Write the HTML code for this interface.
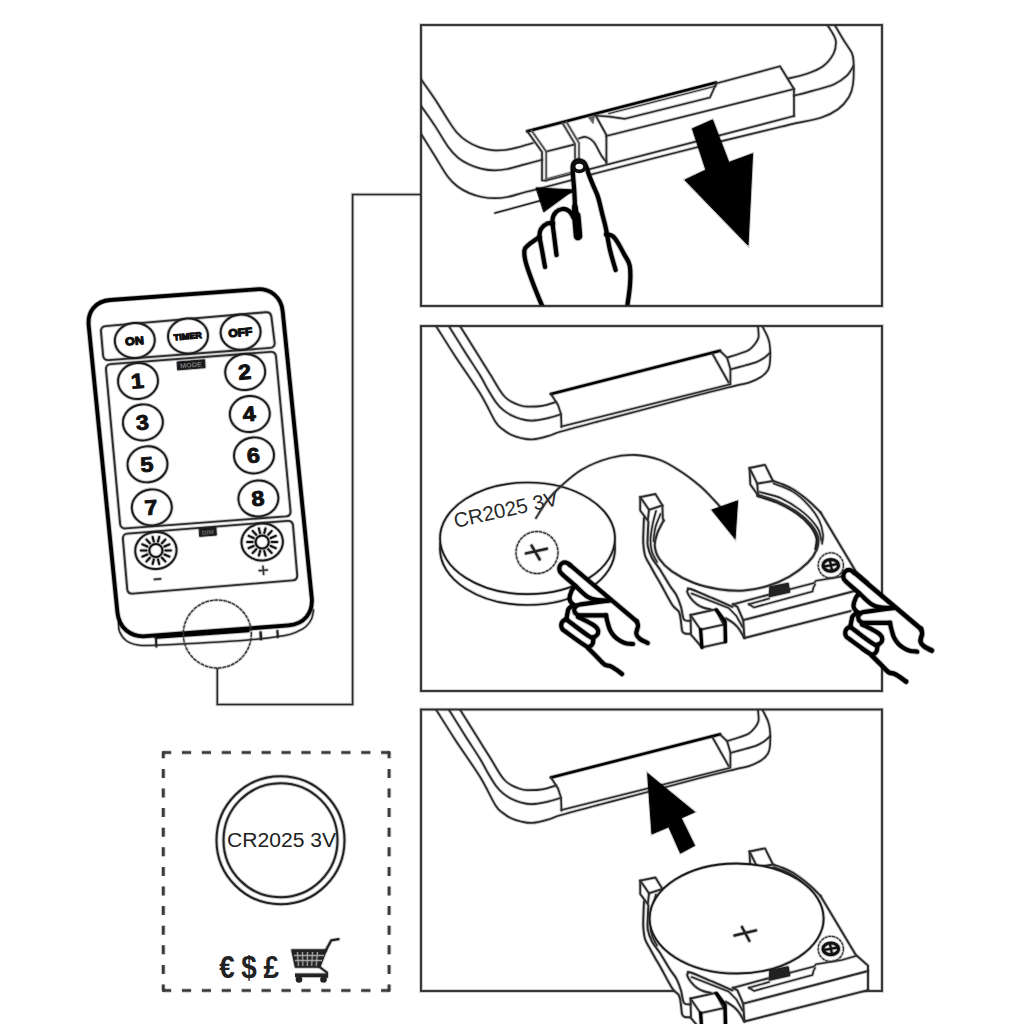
<!DOCTYPE html>
<html><head><meta charset="utf-8"><title>CR2025 battery replacement</title>
<style>
html,body{margin:0;padding:0;background:#fff;}
body{width:1024px;height:1024px;overflow:hidden;font-family:"Liberation Sans",sans-serif;}
svg{display:block;}
svg path, svg ellipse, svg circle, svg rect, svg line{stroke-linecap:round;stroke-linejoin:round;}
svg .b{stroke-linecap:butt;stroke-linejoin:miter;}
</style></head><body>
<svg width="1024" height="1024" viewBox="0 0 1024 1024">
<rect x="0" y="0" width="1024" height="1024" fill="#fff" stroke="none"/>
<path d="M217.3 668 V704.5 H352.6 V194.5 H421" fill="none" stroke="#2a2a2a" stroke-width="3.5" stroke-opacity="0.25" class="b"/>
<path d="M217.3 668 V704.5 H352.6 V194.5 H421" fill="none" stroke="#2a2a2a" stroke-width="1.6" class="b"/>
<g id="panel1">
<clipPath id="cp1"><rect x="421" y="25" width="461" height="281"/></clipPath>
<g clip-path="url(#cp1)">
<path d="M420.5 78.5 C422.9 82 430.5 92.4 435 99.2 C439.5 106 444.1 114 447.7 119.5 C451.3 125 453.4 128.6 456.6 132.2 C459.8 135.8 463 138.6 466.8 141.1 C470.6 143.6 475.3 145.9 479.5 147.4 C483.7 148.9 488 149.8 492.2 150.2 C496.4 150.6 500.7 150.5 504.9 150 C509.1 149.5 513 148.6 517.6 147.4 C522.2 146.2 530.3 143.7 532.8 143" fill="none" stroke="#2e2e2e" stroke-width="3.6" stroke-opacity="0.25" />
<path d="M420.5 78.5 C422.9 82 430.5 92.4 435 99.2 C439.5 106 444.1 114 447.7 119.5 C451.3 125 453.4 128.6 456.6 132.2 C459.8 135.8 463 138.6 466.8 141.1 C470.6 143.6 475.3 145.9 479.5 147.4 C483.7 148.9 488 149.8 492.2 150.2 C496.4 150.6 500.7 150.5 504.9 150 C509.1 149.5 513 148.6 517.6 147.4 C522.2 146.2 530.3 143.7 532.8 143" fill="none" stroke="#2e2e2e" stroke-width="1.7" />
<path d="M420.5 105 C422.9 108.5 430.5 119 435 125.9 C439.5 132.8 443.9 140.9 447.7 146.2 C451.5 151.5 454.3 154.5 457.9 157.6 C461.5 160.7 465.3 162.7 469.3 164.6 C473.3 166.5 477.8 167.9 482 168.8 C486.2 169.8 490.5 170.3 494.7 170.3 C498.9 170.3 502.5 169.9 507.4 169 C512.3 168.1 518.1 166.1 523.9 164.6 C529.7 163.1 539 160.6 542 159.8" fill="none" stroke="#2e2e2e" stroke-width="3.6" stroke-opacity="0.25" />
<path d="M420.5 105 C422.9 108.5 430.5 119 435 125.9 C439.5 132.8 443.9 140.9 447.7 146.2 C451.5 151.5 454.3 154.5 457.9 157.6 C461.5 160.7 465.3 162.7 469.3 164.6 C473.3 166.5 477.8 167.9 482 168.8 C486.2 169.8 490.5 170.3 494.7 170.3 C498.9 170.3 502.5 169.9 507.4 169 C512.3 168.1 518.1 166.1 523.9 164.6 C529.7 163.1 539 160.6 542 159.8" fill="none" stroke="#2e2e2e" stroke-width="1.7" />
<path d="M420.5 133 C422.9 136.9 430.5 149 435 156.3 C439.5 163.6 443.9 171.5 447.7 176.6 C451.5 181.7 454.3 184.1 457.9 186.8 C461.5 189.6 465.3 191.4 469.3 193.1 C473.3 194.8 477.8 196.2 482 197 C486.2 197.8 490.5 198.2 494.7 198.2 C498.9 198.2 502.5 197.9 507.4 197 C512.3 196.1 518.5 193.9 523.9 192.5 C529.3 191.1 532 190.6 540 188.5 C548 186.4 563 182.4 572 180 C581 177.6 572.7 179.4 594 173.8 C615.3 168.2 669 154.3 700 146.5 C731 138.7 764 130.9 780 127 C796 123.1 789.2 124.6 796 123.1 C802.8 121.6 813.8 120.1 820.8 117.8 C827.8 115.5 833.3 112.6 838 109.2 C842.7 105.8 846.3 101.4 848.8 97.3 C851.3 93.2 852.2 90.2 853 84.5 C853.8 78.8 853.8 68.2 853.6 63 C853.4 57.8 853.5 56.9 852 53.3 C850.5 49.7 847.4 46.2 844.5 41.5 C841.6 36.8 836.4 27.8 834.8 25" fill="none" stroke="#2e2e2e" stroke-width="3.6" stroke-opacity="0.25" />
<path d="M420.5 133 C422.9 136.9 430.5 149 435 156.3 C439.5 163.6 443.9 171.5 447.7 176.6 C451.5 181.7 454.3 184.1 457.9 186.8 C461.5 189.6 465.3 191.4 469.3 193.1 C473.3 194.8 477.8 196.2 482 197 C486.2 197.8 490.5 198.2 494.7 198.2 C498.9 198.2 502.5 197.9 507.4 197 C512.3 196.1 518.5 193.9 523.9 192.5 C529.3 191.1 532 190.6 540 188.5 C548 186.4 563 182.4 572 180 C581 177.6 572.7 179.4 594 173.8 C615.3 168.2 669 154.3 700 146.5 C731 138.7 764 130.9 780 127 C796 123.1 789.2 124.6 796 123.1 C802.8 121.6 813.8 120.1 820.8 117.8 C827.8 115.5 833.3 112.6 838 109.2 C842.7 105.8 846.3 101.4 848.8 97.3 C851.3 93.2 852.2 90.2 853 84.5 C853.8 78.8 853.8 68.2 853.6 63 C853.4 57.8 853.5 56.9 852 53.3 C850.5 49.7 847.4 46.2 844.5 41.5 C841.6 36.8 836.4 27.8 834.8 25" fill="none" stroke="#2e2e2e" stroke-width="1.7" />
<path d="M546 180.5 L794 116" fill="none" stroke="#2e2e2e" stroke-width="3.6" stroke-opacity="0.25" />
<path d="M546 180.5 L794 116" fill="none" stroke="#2e2e2e" stroke-width="1.7" />
<path d="M495 213 L574 191.5" fill="none" stroke="#222" stroke-width="3.3" stroke-opacity="0.25" />
<path d="M495 213 L574 191.5" fill="none" stroke="#222" stroke-width="1.4" />
<path d="M827.3 25 C828.2 26.5 831.6 31.2 833 34 C834.4 36.8 835.8 38.3 835.9 41.5 C836 44.7 835.9 49.2 833.7 53.3 C831.6 57.4 827.5 62.8 823 66.2 C818.5 69.6 812.6 71.7 806.9 73.7 C801.2 75.8 791.6 77.7 788.6 78.5" fill="none" stroke="#2e2e2e" stroke-width="3.6" stroke-opacity="0.25" />
<path d="M827.3 25 C828.2 26.5 831.6 31.2 833 34 C834.4 36.8 835.8 38.3 835.9 41.5 C836 44.7 835.9 49.2 833.7 53.3 C831.6 57.4 827.5 62.8 823 66.2 C818.5 69.6 812.6 71.7 806.9 73.7 C801.2 75.8 791.6 77.7 788.6 78.5" fill="none" stroke="#2e2e2e" stroke-width="1.7" />
<path d="M853.3 66.2 C852.2 67.8 849.9 72.9 846.6 75.9 C843.3 79 839.4 82 833.7 84.5 C828 87 818.8 89 812.2 90.9 C805.6 92.8 797 94.9 794 95.7" fill="none" stroke="#2e2e2e" stroke-width="3.6" stroke-opacity="0.25" />
<path d="M853.3 66.2 C852.2 67.8 849.9 72.9 846.6 75.9 C843.3 79 839.4 82 833.7 84.5 C828 87 818.8 89 812.2 90.9 C805.6 92.8 797 94.9 794 95.7" fill="none" stroke="#2e2e2e" stroke-width="1.7" />
<path d="M527.3 131.3 L716 82.6" fill="none" stroke="#000" stroke-width="4.5" stroke-opacity="0.25" />
<path d="M527.3 131.3 L716 82.6" fill="none" stroke="#000" stroke-width="2.6" />
<path d="M716 83.5 L780 66.2 L794 89 L794 116" fill="none" stroke="#2e2e2e" stroke-width="3.6" stroke-opacity="0.25" />
<path d="M716 83.5 L780 66.2 L794 89 L794 116" fill="none" stroke="#2e2e2e" stroke-width="1.7" />
<path d="M546.5 151.5 L574 144.6" fill="none" stroke="#2e2e2e" stroke-width="3.6" stroke-opacity="0.25" />
<path d="M546.5 151.5 L574 144.6" fill="none" stroke="#2e2e2e" stroke-width="1.7" />
<path d="M606.4 136 L794 89" fill="none" stroke="#2e2e2e" stroke-width="3.6" stroke-opacity="0.25" />
<path d="M606.4 136 L794 89" fill="none" stroke="#2e2e2e" stroke-width="1.7" />
<path d="M594 115.5 L609.4 116.6 L625 118.8 L710 97.5 L716 84" fill="none" stroke="#2e2e2e" stroke-width="3.6" stroke-opacity="0.25" />
<path d="M594 115.5 L609.4 116.6 L625 118.8 L710 97.5 L716 84" fill="none" stroke="#2e2e2e" stroke-width="1.7" />
<path d="M609 113.5 L716 86" fill="none" stroke="#2e2e2e" stroke-width="3.1" stroke-opacity="0.25" />
<path d="M609 113.5 L716 86" fill="none" stroke="#2e2e2e" stroke-width="1.2" />
<path d="M527.3 131.3 L542 152 L542 180.5 L546 180.5" fill="none" stroke="#2e2e2e" stroke-width="3.6" stroke-opacity="0.25" />
<path d="M527.3 131.3 L542 152 L542 180.5 L546 180.5" fill="none" stroke="#2e2e2e" stroke-width="1.7" />
<path d="M531.5 130.5 L546.2 151.5 L546.2 180" fill="none" stroke="#555" stroke-width="3.6" stroke-opacity="0.25" />
<path d="M531.5 130.5 L546.2 151.5 L546.2 180" fill="none" stroke="#555" stroke-width="1.7" />
<path d="M562.5 123 L575 144 L575 158" fill="none" stroke="#444" stroke-width="3.6" stroke-opacity="0.25" />
<path d="M562.5 123 L575 144 L575 158" fill="none" stroke="#444" stroke-width="1.7" />
<path d="M566.5 122 L579 143 L579 158" fill="none" stroke="#555" stroke-width="3.6" stroke-opacity="0.25" />
<path d="M566.5 122 L579 143 L579 158" fill="none" stroke="#555" stroke-width="1.7" />
<path d="M579 138.5 C580.2 138.2 583.5 136.4 586 137 C588.5 137.6 591.2 138.9 593.8 142 C596.3 145.1 599.4 152.4 601.5 155.7 C603.6 159 605.6 160.8 606.4 161.8" fill="none" stroke="#2e2e2e" stroke-width="3.6" stroke-opacity="0.25" />
<path d="M579 138.5 C580.2 138.2 583.5 136.4 586 137 C588.5 137.6 591.2 138.9 593.8 142 C596.3 145.1 599.4 152.4 601.5 155.7 C603.6 159 605.6 160.8 606.4 161.8" fill="none" stroke="#2e2e2e" stroke-width="1.7" />
<path d="M595.7 115.5 L606.4 135 L606.4 163.5" fill="none" stroke="#2e2e2e" stroke-width="3.6" stroke-opacity="0.25" />
<path d="M595.7 115.5 L606.4 135 L606.4 163.5" fill="none" stroke="#2e2e2e" stroke-width="1.7" />
<path d="M589 117.5 L594 116.5 L593 123Z" fill="#666" stroke="none" />
<path d="M589 117.5 L594 116.5 L593 123Z" fill="none" stroke="#555" stroke-width="2.7" stroke-opacity="0.25" />
<path d="M589 117.5 L594 116.5 L593 123Z" fill="none" stroke="#555" stroke-width="0.8" />
<path d="M548 178.5 L574 171.5" fill="none" stroke="#555" stroke-width="3" stroke-opacity="0.25" />
<path d="M548 178.5 L574 171.5" fill="none" stroke="#555" stroke-width="1.1" />
<path d="M536.5 188 L573.4 190 L544 211.5Z" fill="#000" stroke="none" />
<path d="M536.5 188 L573.4 190 L544 211.5Z" fill="none" stroke="#000" stroke-width="2.9" stroke-opacity="0.25" />
<path d="M536.5 188 L573.4 190 L544 211.5Z" fill="none" stroke="#000" stroke-width="1" />
<path d="M692.5 128.8 L712.5 120 L728.8 162.5 L752.5 153.8 L748 245 L685 180 L706 170Z" fill="#000" stroke="none" class="b"/>
<path d="M692.5 128.8 L712.5 120 L728.8 162.5 L752.5 153.8 L748 245 L685 180 L706 170Z" fill="none" stroke="#000" stroke-width="2.9" stroke-opacity="0.25" class="b"/>
<path d="M692.5 128.8 L712.5 120 L728.8 162.5 L752.5 153.8 L748 245 L685 180 L706 170Z" fill="none" stroke="#000" stroke-width="1" class="b"/>
<path d="M543 310 C527.3 305.8 535.9 292.9 533 285 C530.1 277.1 527.1 268.7 525.8 262.5 C524.5 256.3 522.8 251.8 525 247.6 C527.2 243.3 536.3 239.9 539 237 C541.7 234.1 539.7 232.3 541 230 C542.3 227.7 545 224.6 547 223.4 C549 222.2 551.8 224.2 553 223 C554.2 221.8 552.4 218.3 554 216 C555.6 213.7 559.3 209 562.5 209 C565.7 209 571.1 219.2 573 216 C574.9 212.8 573.9 198.3 574 190 C574.1 181.7 572.7 170.9 573.4 166 C574.1 161.1 576.2 160.8 578 160.5 C579.8 160.2 581.7 159.9 584 164 C586.3 168.1 589.8 179.5 592 185 C594.2 190.5 594.9 189.3 597 197 C599.1 204.7 602.1 224.5 604.7 231 C607.3 237.5 609.6 232.8 612.5 236 C615.4 239.2 619.1 245.1 622 250 C624.9 254.9 628.5 259.8 629.7 265.6 C630.9 271.4 629.5 277.6 629 285 C628.5 292.4 641.3 305.8 627 310 C612.7 314.2 558.7 314.2 543 310Z" fill="#fff" stroke="none" stroke-width="0" />
<path d="M543 308 C541.5 304.3 536.9 293.6 534 286 C531.1 278.4 527.4 268.5 525.8 262.5 C524.2 256.5 524 253 524.5 250 C525 247 526.5 246.7 529 244.5 C531.5 242.3 537.8 238.2 539.5 237" fill="none" stroke="#000" stroke-width="6.1" stroke-opacity="0.25" />
<path d="M543 308 C541.5 304.3 536.9 293.6 534 286 C531.1 278.4 527.4 268.5 525.8 262.5 C524.2 256.5 524 253 524.5 250 C525 247 526.5 246.7 529 244.5 C531.5 242.3 537.8 238.2 539.5 237" fill="none" stroke="#000" stroke-width="4.2" />
<path d="M545 267 C544.5 264.2 542.9 255.2 542 250 C541.1 244.8 539.7 239.5 539.5 236 C539.3 232.5 539.8 231.1 541 229 C542.2 226.9 545 224.5 547 223.6 C549 222.7 552 223.5 553 223.5" fill="none" stroke="#000" stroke-width="6.1" stroke-opacity="0.25" />
<path d="M545 267 C544.5 264.2 542.9 255.2 542 250 C541.1 244.8 539.7 239.5 539.5 236 C539.3 232.5 539.8 231.1 541 229 C542.2 226.9 545 224.5 547 223.6 C549 222.7 552 223.5 553 223.5" fill="none" stroke="#000" stroke-width="4.2" />
<path d="M556.5 255 C556.1 251.7 554.7 240.8 554 235 C553.3 229.2 552.2 223.8 552.5 220 C552.8 216.2 554.3 213.8 556 212 C557.7 210.2 560.3 209.2 562.5 209 C564.7 208.8 567.2 209.7 569 211 C570.8 212.3 572.7 216 573.4 217" fill="none" stroke="#000" stroke-width="6.1" stroke-opacity="0.25" />
<path d="M556.5 255 C556.1 251.7 554.7 240.8 554 235 C553.3 229.2 552.2 223.8 552.5 220 C552.8 216.2 554.3 213.8 556 212 C557.7 210.2 560.3 209.2 562.5 209 C564.7 208.8 567.2 209.7 569 211 C570.8 212.3 572.7 216 573.4 217" fill="none" stroke="#000" stroke-width="4.2" />
<path d="M573.4 217 C573.6 215 574.7 209.5 574.8 205 C574.9 200.5 574.5 195 574.2 190 C573.9 185 573.2 179 573 175 C572.8 171 572.5 168.2 572.8 166 C573.1 163.8 574 162.4 575 161.5 C576 160.6 577.6 160.2 579 160.3 C580.4 160.4 582.3 161.1 583.5 162 C584.7 162.9 585.1 163.8 586 166 C586.9 168.2 587.8 171.8 589 175 C590.2 178.2 591.5 181.3 593 185 C594.5 188.7 596.5 192.3 598 197 C599.5 201.7 600.7 207.7 602 213 C603.3 218.3 604.7 222.8 606 229 C607.3 235.2 608.4 243.2 610 250 C611.6 256.8 614.7 266.7 615.6 270" fill="none" stroke="#000" stroke-width="6.1" stroke-opacity="0.25" />
<path d="M573.4 217 C573.6 215 574.7 209.5 574.8 205 C574.9 200.5 574.5 195 574.2 190 C573.9 185 573.2 179 573 175 C572.8 171 572.5 168.2 572.8 166 C573.1 163.8 574 162.4 575 161.5 C576 160.6 577.6 160.2 579 160.3 C580.4 160.4 582.3 161.1 583.5 162 C584.7 162.9 585.1 163.8 586 166 C586.9 168.2 587.8 171.8 589 175 C590.2 178.2 591.5 181.3 593 185 C594.5 188.7 596.5 192.3 598 197 C599.5 201.7 600.7 207.7 602 213 C603.3 218.3 604.7 222.8 606 229 C607.3 235.2 608.4 243.2 610 250 C611.6 256.8 614.7 266.7 615.6 270" fill="none" stroke="#000" stroke-width="4.2" />
<path d="M575 207 L576 215" fill="none" stroke="#000" stroke-width="7.4" stroke-opacity="0.25" />
<path d="M575 207 L576 215" fill="none" stroke="#000" stroke-width="5.5" />
<path d="M576.3 216 C576.4 217.7 576.9 222.7 577.2 226 C577.5 229.3 577.9 234.3 578 236" fill="none" stroke="#000" stroke-width="10.4" stroke-opacity="0.25" />
<path d="M576.3 216 C576.4 217.7 576.9 222.7 577.2 226 C577.5 229.3 577.9 234.3 578 236" fill="none" stroke="#000" stroke-width="8.5" />
<ellipse cx="579.3" cy="166.3" rx="7.6" ry="7" fill="#111" stroke="none"/>
<ellipse cx="579.3" cy="166.6" rx="3.8" ry="2.9" fill="#fff" stroke="none"/>
<path d="M606 234.5 C607.1 234.8 610.5 234.6 612.5 236 C614.5 237.4 616.1 240 618 243 C619.9 246 622 250.2 624 254 C626 257.8 628.7 260.4 629.7 265.6 C630.7 270.8 630.5 277.9 630 285 C629.5 292.1 627.5 304.2 627 308" fill="none" stroke="#000" stroke-width="6.1" stroke-opacity="0.25" />
<path d="M606 234.5 C607.1 234.8 610.5 234.6 612.5 236 C614.5 237.4 616.1 240 618 243 C619.9 246 622 250.2 624 254 C626 257.8 628.7 260.4 629.7 265.6 C630.7 270.8 630.5 277.9 630 285 C629.5 292.1 627.5 304.2 627 308" fill="none" stroke="#000" stroke-width="4.2" />
</g>
<rect class="b" x="421" y="25" width="461" height="281" fill="none" stroke="#2a2a2a" stroke-width="3.7" stroke-opacity="0.25"/>
<rect class="b" x="421" y="25" width="461" height="281" fill="none" stroke="#2a2a2a" stroke-width="1.8"/>
</g>
<g id="panel2">
<clipPath id="cp2"><rect x="421" y="326" width="461" height="365"/></clipPath>
<g clip-path="url(#cp2)">
<path d="M436 326 C439.2 331 447.7 344.8 455 356 C462.3 367.2 473.2 382.3 480 393.3 C486.8 404.3 491.8 416 495.6 422 C499.4 428 500.4 427.4 503 429.5 C505.6 431.6 508 433.3 511 434.7 C514 436.1 517.3 437.2 521 438 C524.7 438.8 528.2 439.8 533 439.4 C537.8 439 545.3 436.8 550 435.5 C554.7 434.2 552.7 433.9 561 431.5 C569.3 429.1 586.8 424.5 600 421 C613.2 417.5 623.3 414.9 640 410.5 C656.7 406.1 684.2 398.6 700 394.5 C715.8 390.4 726.9 387.8 735 385.8 C743.1 383.8 744.6 384.1 748.9 382.6 C753.2 381.1 757.8 379.1 761 377 C764.2 374.9 766.5 372.5 768 370 C769.5 367.5 769.7 365.8 770 362 C770.3 358.2 770.3 351.3 770 347.3 C769.7 343.3 769.3 341.4 768 337.8 C766.7 334.2 763 327.6 762 325.5" fill="none" stroke="#2e2e2e" stroke-width="3.6" stroke-opacity="0.25" />
<path d="M436 326 C439.2 331 447.7 344.8 455 356 C462.3 367.2 473.2 382.3 480 393.3 C486.8 404.3 491.8 416 495.6 422 C499.4 428 500.4 427.4 503 429.5 C505.6 431.6 508 433.3 511 434.7 C514 436.1 517.3 437.2 521 438 C524.7 438.8 528.2 439.8 533 439.4 C537.8 439 545.3 436.8 550 435.5 C554.7 434.2 552.7 433.9 561 431.5 C569.3 429.1 586.8 424.5 600 421 C613.2 417.5 623.3 414.9 640 410.5 C656.7 406.1 684.2 398.6 700 394.5 C715.8 390.4 726.9 387.8 735 385.8 C743.1 383.8 744.6 384.1 748.9 382.6 C753.2 381.1 757.8 379.1 761 377 C764.2 374.9 766.5 372.5 768 370 C769.5 367.5 769.7 365.8 770 362 C770.3 358.2 770.3 351.3 770 347.3 C769.7 343.3 769.3 341.4 768 337.8 C766.7 334.2 763 327.6 762 325.5" fill="none" stroke="#2e2e2e" stroke-width="1.7" />
<path d="M448.8 326 C451.5 330.3 459.8 343.8 465 352 C470.2 360.2 476.1 368.9 480 375.3 C483.9 381.7 485.8 385.9 488.5 390.5 C491.2 395.1 494 399.7 496.5 403 C499 406.3 500.9 408.2 503.4 410.2 C505.9 412.2 508.3 413.7 511.2 415.2 C514.2 416.7 517.6 418.1 521 419 C524.4 419.9 527.2 420.7 531.5 420.6 C535.8 420.5 542.2 419.3 547 418.3 C551.8 417.3 558.2 415.1 560.5 414.5" fill="none" stroke="#2e2e2e" stroke-width="3.6" stroke-opacity="0.25" />
<path d="M448.8 326 C451.5 330.3 459.8 343.8 465 352 C470.2 360.2 476.1 368.9 480 375.3 C483.9 381.7 485.8 385.9 488.5 390.5 C491.2 395.1 494 399.7 496.5 403 C499 406.3 500.9 408.2 503.4 410.2 C505.9 412.2 508.3 413.7 511.2 415.2 C514.2 416.7 517.6 418.1 521 419 C524.4 419.9 527.2 420.7 531.5 420.6 C535.8 420.5 542.2 419.3 547 418.3 C551.8 417.3 558.2 415.1 560.5 414.5" fill="none" stroke="#2e2e2e" stroke-width="1.7" />
<path d="M731 369.2 C733.3 368.6 740.9 366.6 745 365.5 C749.1 364.4 752.5 363.6 755.7 362.4 C758.9 361.1 761.6 359.6 764 358 C766.4 356.4 769 353.7 770 352.8" fill="none" stroke="#2e2e2e" stroke-width="3.6" stroke-opacity="0.25" />
<path d="M731 369.2 C733.3 368.6 740.9 366.6 745 365.5 C749.1 364.4 752.5 363.6 755.7 362.4 C758.9 361.1 761.6 359.6 764 358 C766.4 356.4 769 353.7 770 352.8" fill="none" stroke="#2e2e2e" stroke-width="1.7" />
<path d="M460 326 C461.7 328.7 466.7 336.7 470 342 C473.3 347.3 476.7 352.7 480 358 C483.3 363.3 486.6 368.5 490 374 C493.4 379.5 497.8 387.2 500.3 391 C502.8 394.8 503.2 395.2 505 397 C506.8 398.8 508.7 400.2 511 401.5 C513.3 402.8 516.3 404.1 519 405 C521.7 405.9 523.1 406.5 527 406.6 C530.9 406.7 537.7 406.6 542.5 405.8 C547.3 405 553.8 402.6 556 402" fill="none" stroke="#2e2e2e" stroke-width="3.6" stroke-opacity="0.25" />
<path d="M460 326 C461.7 328.7 466.7 336.7 470 342 C473.3 347.3 476.7 352.7 480 358 C483.3 363.3 486.6 368.5 490 374 C493.4 379.5 497.8 387.2 500.3 391 C502.8 394.8 503.2 395.2 505 397 C506.8 398.8 508.7 400.2 511 401.5 C513.3 402.8 516.3 404.1 519 405 C521.7 405.9 523.1 406.5 527 406.6 C530.9 406.7 537.7 406.6 542.5 405.8 C547.3 405 553.8 402.6 556 402" fill="none" stroke="#2e2e2e" stroke-width="1.7" />
<path d="M727.5 357.5 C729.6 356.8 736.4 354.8 740 353.5 C743.6 352.2 746.4 351.6 748.9 350 C751.4 348.4 753.4 346 755 344 C756.6 342 757.8 340 758.4 337.8 C759 335.6 758.5 333.1 758.4 331 C758.3 328.9 757.9 326.4 757.8 325.5" fill="none" stroke="#2e2e2e" stroke-width="3.6" stroke-opacity="0.25" />
<path d="M727.5 357.5 C729.6 356.8 736.4 354.8 740 353.5 C743.6 352.2 746.4 351.6 748.9 350 C751.4 348.4 753.4 346 755 344 C756.6 342 757.8 340 758.4 337.8 C759 335.6 758.5 333.1 758.4 331 C758.3 328.9 757.9 326.4 757.8 325.5" fill="none" stroke="#2e2e2e" stroke-width="1.7" />
<path d="M551 394 L720 350.8" fill="none" stroke="#000" stroke-width="4.5" stroke-opacity="0.25" />
<path d="M551 394 L720 350.8" fill="none" stroke="#000" stroke-width="2.6" />
<path d="M551 394 L558 405 L561 414 L561.5 427" fill="none" stroke="#2e2e2e" stroke-width="3.6" stroke-opacity="0.25" />
<path d="M551 394 L558 405 L561 414 L561.5 427" fill="none" stroke="#2e2e2e" stroke-width="1.7" />
<path d="M561.5 426.5 L730.4 384.3 L730.4 369 L727 357.6 L720 350.8" fill="none" stroke="#2e2e2e" stroke-width="3.6" stroke-opacity="0.25" />
<path d="M561.5 426.5 L730.4 384.3 L730.4 369 L727 357.6 L720 350.8" fill="none" stroke="#2e2e2e" stroke-width="1.7" />
<path d="M712.6 354 L728.6 382.5" fill="none" stroke="#2e2e2e" stroke-width="3.6" stroke-opacity="0.25" />
<path d="M712.6 354 L728.6 382.5" fill="none" stroke="#2e2e2e" stroke-width="1.7" />
</g>
<ellipse cx="527.5" cy="549" rx="87.5" ry="56" fill="#fff" stroke="none"/>
<ellipse cx="527.5" cy="549" rx="87.5" ry="56" fill="none" stroke="#1c1c1c" stroke-width="3.6" stroke-opacity="0.25"/>
<ellipse cx="527.5" cy="549" rx="87.5" ry="56" fill="none" stroke="#1c1c1c" stroke-width="1.7"/>
<ellipse cx="527.5" cy="538.3" rx="87.5" ry="55.8" fill="#fff" stroke="none"/>
<ellipse cx="527.5" cy="538.3" rx="87.5" ry="55.8" fill="none" stroke="#1c1c1c" stroke-width="3.6" stroke-opacity="0.25"/>
<ellipse cx="527.5" cy="538.3" rx="87.5" ry="55.8" fill="none" stroke="#1c1c1c" stroke-width="1.7"/>
<text transform="translate(455.5 528) rotate(-12.5)" font-family="'Liberation Sans',sans-serif" font-size="20.5" fill="#2a2a2a" textLength="106" lengthAdjust="spacingAndGlyphs">CR2025 3V</text>
<circle cx="537" cy="552.5" r="21" fill="none" stroke="#333" stroke-width="3.2" stroke-opacity="0.25" stroke-dasharray="2.4 1.8"/>
<circle cx="537" cy="552.5" r="21" fill="none" stroke="#333" stroke-width="1.3" stroke-dasharray="2.4 1.8"/>
<path d="M526 553.4 L546.8 548.8 M531.6 545.6 L539.6 559.4" fill="none" stroke="#222" stroke-width="4.4" stroke-opacity="0.25" />
<path d="M526 553.4 L546.8 548.8 M531.6 545.6 L539.6 559.4" fill="none" stroke="#222" stroke-width="2.5" />
<path d="M563.5 562.5 L570 563 L636.7 621.3 L636 633.7 L647.7 643 L633 644 L622 674 L604.5 664.5 L589 649 L562 630 L560 620 L566 612 L568 600 L570 590 L575 583 L559.5 572 L559.5 566Z" fill="#fff" stroke="none" stroke-width="0" />
<path d="M608.8 600.5 C606.6 600.4 602.2 600.7 598 600 C593.8 599.3 592.6 599.9 588 597 C583.4 594.1 580.2 590.1 575 585.5 C569.8 580.9 565.1 577.1 562 574 C558.9 570.9 559.9 571.6 559.5 570 C559.1 568.4 559.2 567.4 559.8 566 C560.4 564.6 561.2 563.7 562.5 563 C563.8 562.3 565 562.3 566.5 562.7 C568 563.1 569.3 564.5 570 565" fill="none" stroke="#000" stroke-width="6.1" stroke-opacity="0.25" />
<path d="M608.8 600.5 C606.6 600.4 602.2 600.7 598 600 C593.8 599.3 592.6 599.9 588 597 C583.4 594.1 580.2 590.1 575 585.5 C569.8 580.9 565.1 577.1 562 574 C558.9 570.9 559.9 571.6 559.5 570 C559.1 568.4 559.2 567.4 559.8 566 C560.4 564.6 561.2 563.7 562.5 563 C563.8 562.3 565 562.3 566.5 562.7 C568 563.1 569.3 564.5 570 565" fill="none" stroke="#000" stroke-width="4.2" />
<path d="M570 565 L636.7 621.3" fill="none" stroke="#000" stroke-width="6.1" stroke-opacity="0.25" />
<path d="M570 565 L636.7 621.3" fill="none" stroke="#000" stroke-width="4.2" />
<path d="M636.7 621.3 C636.9 622.1 638.1 623.9 638 626 C637.9 628.1 636 631.5 636.3 633.7 C636.6 635.9 638.1 637.5 640 639 C641.9 640.5 646.4 642.3 647.7 643" fill="none" stroke="#000" stroke-width="6.1" stroke-opacity="0.25" />
<path d="M636.7 621.3 C636.9 622.1 638.1 623.9 638 626 C637.9 628.1 636 631.5 636.3 633.7 C636.6 635.9 638.1 637.5 640 639 C641.9 640.5 646.4 642.3 647.7 643" fill="none" stroke="#000" stroke-width="4.2" />
<path d="M608.8 600.5 L581 604.3 Q574 605.5 574.2 610 Q574.5 615.2 581 615.4 L606 615.4" fill="none" stroke="#000" stroke-width="6.1" stroke-opacity="0.25" />
<path d="M608.8 600.5 L581 604.3 Q574 605.5 574.2 610 Q574.5 615.2 581 615.4 L606 615.4" fill="none" stroke="#000" stroke-width="4.2" />
<path d="M606 615.4 C606.2 616.5 606.8 619.6 607.5 622 C608.2 624.4 608.8 627.6 610 630 C611.2 632.4 612.8 634.7 614.5 636.5 C616.2 638.3 618.5 639.8 620.5 641 C622.5 642.2 624.4 643 626.5 643.5 C628.6 644 631.9 643.9 633 644" fill="none" stroke="#000" stroke-width="6.1" stroke-opacity="0.25" />
<path d="M606 615.4 C606.2 616.5 606.8 619.6 607.5 622 C608.2 624.4 608.8 627.6 610 630 C611.2 632.4 612.8 634.7 614.5 636.5 C616.2 638.3 618.5 639.8 620.5 641 C622.5 642.2 624.4 643 626.5 643.5 C628.6 644 631.9 643.9 633 644" fill="none" stroke="#000" stroke-width="4.2" />
<path d="M575 586 C574.4 586.8 572.4 588.9 571.5 591 C570.6 593.1 569.4 596.5 569.5 598.6 C569.6 600.7 570.9 602.3 572 603.5 C573.1 604.7 575.3 605.6 576 606" fill="none" stroke="#000" stroke-width="6.1" stroke-opacity="0.25" />
<path d="M575 586 C574.4 586.8 572.4 588.9 571.5 591 C570.6 593.1 569.4 596.5 569.5 598.6 C569.6 600.7 570.9 602.3 572 603.5 C573.1 604.7 575.3 605.6 576 606" fill="none" stroke="#000" stroke-width="4.2" />
<path d="M572 606 C571.4 606.5 569.2 607.8 568.5 609 C567.8 610.2 567.9 611.3 567.5 613 C567.1 614.7 566.6 618 566.4 619" fill="none" stroke="#000" stroke-width="6.1" stroke-opacity="0.25" />
<path d="M572 606 C571.4 606.5 569.2 607.8 568.5 609 C567.8 610.2 567.9 611.3 567.5 613 C567.1 614.7 566.6 618 566.4 619" fill="none" stroke="#000" stroke-width="4.2" />
<path d="M578 617 C580.8 618.4 585.8 620.7 590 623 C594.2 625.3 594.1 625.1 596 627 C597.9 628.9 598 629.1 598.2 631 C598.4 632.9 598.2 633.6 597 635 C595.8 636.4 595.1 637.1 593 637.2 C590.9 637.3 594.2 639.6 588 635.5 C581.8 631.4 571.4 623.2 566.4 619.5" fill="none" stroke="#000" stroke-width="6.1" stroke-opacity="0.25" />
<path d="M578 617 C580.8 618.4 585.8 620.7 590 623 C594.2 625.3 594.1 625.1 596 627 C597.9 628.9 598 629.1 598.2 631 C598.4 632.9 598.2 633.6 597 635 C595.8 636.4 595.1 637.1 593 637.2 C590.9 637.3 594.2 639.6 588 635.5 C581.8 631.4 571.4 623.2 566.4 619.5" fill="none" stroke="#000" stroke-width="4.2" />
<path d="M566.4 619.5 C565.6 619.9 564.2 619.8 563 621 C561.8 622.2 561.5 622.8 561.3 624.5 C561.1 626.2 560.9 626.8 562 628.5 C563.1 630.2 560.6 628 566 632 C571.4 636 579.5 642.1 585 645.5 C590.5 648.9 587.8 646.9 589.5 646.5 C591.2 646.1 591.6 646 592.5 644 C593.4 642 593.3 639.4 593.5 638" fill="none" stroke="#000" stroke-width="6.1" stroke-opacity="0.25" />
<path d="M566.4 619.5 C565.6 619.9 564.2 619.8 563 621 C561.8 622.2 561.5 622.8 561.3 624.5 C561.1 626.2 560.9 626.8 562 628.5 C563.1 630.2 560.6 628 566 632 C571.4 636 579.5 642.1 585 645.5 C590.5 648.9 587.8 646.9 589.5 646.5 C591.2 646.1 591.6 646 592.5 644 C593.4 642 593.3 639.4 593.5 638" fill="none" stroke="#000" stroke-width="4.2" />
<path d="M588 648 C589.3 649.3 593.2 653.2 596 656 C598.8 658.8 602.2 662.8 604.5 664.5 C606.8 666.2 608.1 665.2 610 666 C611.9 666.8 614 668.2 616 669.5 C618 670.8 621 673.2 622 674" fill="none" stroke="#000" stroke-width="6.1" stroke-opacity="0.25" />
<path d="M588 648 C589.3 649.3 593.2 653.2 596 656 C598.8 658.8 602.2 662.8 604.5 664.5 C606.8 666.2 608.1 665.2 610 666 C611.9 666.8 614 668.2 616 669.5 C618 670.8 621 673.2 622 674" fill="none" stroke="#000" stroke-width="4.2" />
<path d="M640.2 497.1 L655.4 494 L662.4 505.4 L700 480 L749.5 468 L765 464.8 L773 481 L792.5 489 L811 503 L820.6 512.5 L855.7 571.2 L868 582.1 L868 606.7 L744.4 638 L733.6 623.3 L726 620.8 L724.7 642.4 L702 647.4 L691 634.7 L685 633.5 L682.2 631 L679 612 L672 604.4 L655.4 575 L645.2 556 L643.3 543.5 L644 523 L640.2 510.5Z" fill="#fff" stroke="none" stroke-width="0" />
<path d="M640.2 497.1 L655.4 494 L662.4 505.4 L649 509.8Z" fill="none" stroke="#2e2e2e" stroke-width="3.7" stroke-opacity="0.25" />
<path d="M640.2 497.1 L655.4 494 L662.4 505.4 L649 509.8Z" fill="none" stroke="#2e2e2e" stroke-width="1.8" />
<path d="M640.2 497.1 L640.2 510.5 L647.8 520.6 L649 509.8" fill="none" stroke="#2e2e2e" stroke-width="3.7" stroke-opacity="0.25" />
<path d="M640.2 497.1 L640.2 510.5 L647.8 520.6 L649 509.8" fill="none" stroke="#2e2e2e" stroke-width="1.8" />
<path d="M662.4 505.4 L662.8 518 L663.6 520.6" fill="none" stroke="#2e2e2e" stroke-width="3.7" stroke-opacity="0.25" />
<path d="M662.4 505.4 L662.8 518 L663.6 520.6" fill="none" stroke="#2e2e2e" stroke-width="1.8" />
<path d="M644 518 C643.9 520 643.6 525.8 643.5 530 C643.4 534.2 643 539.2 643.3 543.5 C643.6 547.8 643.9 552.1 645.2 556 C646.5 559.9 649.3 563.8 651 567 C652.7 570.2 653.9 572.4 655.4 575 C656.9 577.6 657.2 577.8 660 582.7 C662.8 587.6 668.8 599.5 672 604.4 C675.2 609.3 677.5 609.1 679 612 C680.5 614.9 680.5 618.8 681 622 C681.5 625.2 681.5 629.1 682.2 631 C682.9 632.9 683.7 633 685 633.5 C686.3 634 689.2 633.8 690 633.8" fill="none" stroke="#2e2e2e" stroke-width="3.8" stroke-opacity="0.25" />
<path d="M644 518 C643.9 520 643.6 525.8 643.5 530 C643.4 534.2 643 539.2 643.3 543.5 C643.6 547.8 643.9 552.1 645.2 556 C646.5 559.9 649.3 563.8 651 567 C652.7 570.2 653.9 572.4 655.4 575 C656.9 577.6 657.2 577.8 660 582.7 C662.8 587.6 668.8 599.5 672 604.4 C675.2 609.3 677.5 609.1 679 612 C680.5 614.9 680.5 618.8 681 622 C681.5 625.2 681.5 629.1 682.2 631 C682.9 632.9 683.7 633 685 633.5 C686.3 634 689.2 633.8 690 633.8" fill="none" stroke="#2e2e2e" stroke-width="1.9" />
<path d="M648.4 522 C648.3 524.2 647.9 531 647.8 535 C647.7 539 647.1 542.2 647.8 546 C648.5 549.8 650 554.1 652 558 C654 561.9 657 564.8 660 569.5 C663 574.2 667.2 581.7 670 586 C672.8 590.3 674.7 591.9 676.5 595.4 C678.3 598.9 679.8 603 681 607 C682.2 611 682.4 617.2 684 619.5 C685.6 621.8 689.4 620.6 690.5 620.8" fill="none" stroke="#2e2e2e" stroke-width="3.8" stroke-opacity="0.25" />
<path d="M648.4 522 C648.3 524.2 647.9 531 647.8 535 C647.7 539 647.1 542.2 647.8 546 C648.5 549.8 650 554.1 652 558 C654 561.9 657 564.8 660 569.5 C663 574.2 667.2 581.7 670 586 C672.8 590.3 674.7 591.9 676.5 595.4 C678.3 598.9 679.8 603 681 607 C682.2 611 682.4 617.2 684 619.5 C685.6 621.8 689.4 620.6 690.5 620.8" fill="none" stroke="#2e2e2e" stroke-width="1.9" />
<path d="M656 511 C655.4 513.3 653.4 520.2 652.5 525 C651.6 529.8 650.6 535.5 650.5 540 C650.4 544.5 650.9 548.3 652 552 C653.1 555.7 656.2 560.3 657 562" fill="none" stroke="#2e2e2e" stroke-width="3.5" stroke-opacity="0.25" />
<path d="M656 511 C655.4 513.3 653.4 520.2 652.5 525 C651.6 529.8 650.6 535.5 650.5 540 C650.4 544.5 650.9 548.3 652 552 C653.1 555.7 656.2 560.3 657 562" fill="none" stroke="#2e2e2e" stroke-width="1.6" />
<path d="M660.5 514 C659.7 516.2 656.7 522.5 655.5 527 C654.3 531.5 653.8 538.7 653.5 541" fill="none" stroke="#2e2e2e" stroke-width="3.5" stroke-opacity="0.25" />
<path d="M660.5 514 C659.7 516.2 656.7 522.5 655.5 527 C654.3 531.5 653.8 538.7 653.5 541" fill="none" stroke="#2e2e2e" stroke-width="1.6" />
<path d="M749.5 468 L765 464.8 L773 481 L757.3 483.6Z" fill="none" stroke="#2e2e2e" stroke-width="3.7" stroke-opacity="0.25" />
<path d="M749.5 468 L765 464.8 L773 481 L757.3 483.6Z" fill="none" stroke="#2e2e2e" stroke-width="1.8" />
<path d="M749.5 468 L750.3 484.4 L758 495.3 L757.3 483.6" fill="none" stroke="#2e2e2e" stroke-width="3.7" stroke-opacity="0.25" />
<path d="M749.5 468 L750.3 484.4 L758 495.3 L757.3 483.6" fill="none" stroke="#2e2e2e" stroke-width="1.8" />
<path d="M773 481 C774.7 481.6 779.8 483.2 783 484.5 C786.2 485.8 789.3 487.2 792.5 489 C795.7 490.8 798.9 493.2 802 495.5 C805.1 497.8 807.9 500.2 811 503 C814.1 505.8 819 510.9 820.6 512.5" fill="none" stroke="#2e2e2e" stroke-width="3.8" stroke-opacity="0.25" />
<path d="M773 481 C774.7 481.6 779.8 483.2 783 484.5 C786.2 485.8 789.3 487.2 792.5 489 C795.7 490.8 798.9 493.2 802 495.5 C805.1 497.8 807.9 500.2 811 503 C814.1 505.8 819 510.9 820.6 512.5" fill="none" stroke="#2e2e2e" stroke-width="1.9" />
<path d="M820.6 512.5 L855.7 571.2 L868 582.1 L868 606.7" fill="none" stroke="#2e2e2e" stroke-width="3.8" stroke-opacity="0.25" />
<path d="M820.6 512.5 L855.7 571.2 L868 582.1 L868 606.7" fill="none" stroke="#2e2e2e" stroke-width="1.9" />
<path d="M773.8 483.6 C776.9 484.9 786.8 487.9 792.5 491.4 C798.2 494.9 803.6 499.9 808 504.7 C812.4 509.5 816.5 515 819 520 C821.5 525 822.5 530.4 823 534.4 C823.5 538.4 822.2 542.2 822 543.8" fill="none" stroke="#2e2e2e" stroke-width="3.5" stroke-opacity="0.25" />
<path d="M773.8 483.6 C776.9 484.9 786.8 487.9 792.5 491.4 C798.2 494.9 803.6 499.9 808 504.7 C812.4 509.5 816.5 515 819 520 C821.5 525 822.5 530.4 823 534.4 C823.5 538.4 822.2 542.2 822 543.8" fill="none" stroke="#2e2e2e" stroke-width="1.6" />
<path d="M759.7 492 C763.3 493.1 774.2 495 781.5 498.4 C788.8 501.8 797.4 507.6 803.4 512.5 C809.4 517.4 814.5 523.3 817.5 528 C820.5 532.7 820.8 538.5 821.4 540.6" fill="none" stroke="#2e2e2e" stroke-width="3.5" stroke-opacity="0.25" />
<path d="M759.7 492 C763.3 493.1 774.2 495 781.5 498.4 C788.8 501.8 797.4 507.6 803.4 512.5 C809.4 517.4 814.5 523.3 817.5 528 C820.5 532.7 820.8 538.5 821.4 540.6" fill="none" stroke="#2e2e2e" stroke-width="1.6" />
<path d="M758 495.6 C761.2 496.7 770.5 499.1 777 502 C783.5 504.9 791.4 509.1 797 513 C802.6 516.9 807.2 521.3 810.5 525.5 C813.8 529.7 816.1 534.1 817 538 C817.9 541.9 816.2 547.2 816 549" fill="none" stroke="#1a1a1a" stroke-width="4.9" stroke-opacity="0.25" />
<path d="M758 495.6 C761.2 496.7 770.5 499.1 777 502 C783.5 504.9 791.4 509.1 797 513 C802.6 516.9 807.2 521.3 810.5 525.5 C813.8 529.7 816.1 534.1 817 538 C817.9 541.9 816.2 547.2 816 549" fill="none" stroke="#1a1a1a" stroke-width="3" />
<path d="M663.6 520.6 C662.5 522.7 658.8 529.1 657.3 533.3 C655.8 537.5 654.5 541.8 654.8 546 C655.1 550.2 656.4 554.5 659.2 558.7 C662.1 562.9 666.2 567.4 671.9 571.4 C677.6 575.4 685.7 579.8 693.5 582.8 C701.3 585.8 710.4 587.9 718.9 589.2 C727.4 590.5 736.2 591 744.3 590.5 C752.4 590 760 588.3 767.5 586 C775 583.7 782.6 580.5 789.4 576.6 C796.1 572.7 803.5 566.9 808 562.5 C812.5 558.1 814.8 554.2 816.5 550 C818.2 545.8 818.9 541.7 818 537.5 C817.1 533.3 814.5 529.2 811 525 C807.5 520.8 802.7 516.4 797 512.5 C791.3 508.6 783.5 504.4 777 501.5 C770.5 498.6 761.2 496.3 758 495.3" fill="none" stroke="#2e2e2e" stroke-width="3.9" stroke-opacity="0.25" />
<path d="M663.6 520.6 C662.5 522.7 658.8 529.1 657.3 533.3 C655.8 537.5 654.5 541.8 654.8 546 C655.1 550.2 656.4 554.5 659.2 558.7 C662.1 562.9 666.2 567.4 671.9 571.4 C677.6 575.4 685.7 579.8 693.5 582.8 C701.3 585.8 710.4 587.9 718.9 589.2 C727.4 590.5 736.2 591 744.3 590.5 C752.4 590 760 588.3 767.5 586 C775 583.7 782.6 580.5 789.4 576.6 C796.1 572.7 803.5 566.9 808 562.5 C812.5 558.1 814.8 554.2 816.5 550 C818.2 545.8 818.9 541.7 818 537.5 C817.1 533.3 814.5 529.2 811 525 C807.5 520.8 802.7 516.4 797 512.5 C791.3 508.6 783.5 504.4 777 501.5 C770.5 498.6 761.2 496.3 758 495.3" fill="none" stroke="#2e2e2e" stroke-width="2" />
<path d="M732.4 606.8 C728.1 604.9 719.4 601.1 711 597.5 C702.6 593.9 695.1 590.5 690.5 589 C685.9 587.5 688.6 589.4 688 590 C687.4 590.6 686.7 590.5 687.3 592.2 C687.9 593.9 689.1 596.1 691 598.5 C692.9 600.9 694.4 602.5 696.8 604.3 C699.2 606.1 700.2 606.5 703 607.5 C705.8 608.5 709.2 609 710.8 609.4" fill="none" stroke="#2e2e2e" stroke-width="3.8" stroke-opacity="0.25" />
<path d="M732.4 606.8 C728.1 604.9 719.4 601.1 711 597.5 C702.6 593.9 695.1 590.5 690.5 589 C685.9 587.5 688.6 589.4 688 590 C687.4 590.6 686.7 590.5 687.3 592.2 C687.9 593.9 689.1 596.1 691 598.5 C692.9 600.9 694.4 602.5 696.8 604.3 C699.2 606.1 700.2 606.5 703 607.5 C705.8 608.5 709.2 609 710.8 609.4" fill="none" stroke="#2e2e2e" stroke-width="1.9" />
<path d="M691.7 593.5 L728.6 608 L736.2 615.7 L742.5 627" fill="none" stroke="#2e2e2e" stroke-width="3.5" stroke-opacity="0.25" />
<path d="M691.7 593.5 L728.6 608 L736.2 615.7 L742.5 627" fill="none" stroke="#2e2e2e" stroke-width="1.6" />
<path d="M726 618.2 C727.3 619.1 731.4 621.5 733.6 623.3 C735.8 625.1 737.3 626.7 739 629 C740.7 631.3 743 635.7 743.8 637" fill="none" stroke="#2e2e2e" stroke-width="3.8" stroke-opacity="0.25" />
<path d="M726 618.2 C727.3 619.1 731.4 621.5 733.6 623.3 C735.8 625.1 737.3 626.7 739 629 C740.7 631.3 743 635.7 743.8 637" fill="none" stroke="#2e2e2e" stroke-width="1.9" />
<path d="M690.5 615 L715.9 609.4 L723.5 624.6 L700.6 629.7Z" fill="none" stroke="#2e2e2e" stroke-width="3.7" stroke-opacity="0.25" />
<path d="M690.5 615 L715.9 609.4 L723.5 624.6 L700.6 629.7Z" fill="none" stroke="#2e2e2e" stroke-width="1.8" />
<path d="M690.5 615 L691 634.7 L701.9 647.4 L724.7 642.4" fill="none" stroke="#2e2e2e" stroke-width="3.7" stroke-opacity="0.25" />
<path d="M690.5 615 L691 634.7 L701.9 647.4 L724.7 642.4" fill="none" stroke="#2e2e2e" stroke-width="1.8" />
<path d="M700.6 629.7 L701.9 647.4" fill="none" stroke="#000" stroke-width="5.1" stroke-opacity="0.25" />
<path d="M700.6 629.7 L701.9 647.4" fill="none" stroke="#000" stroke-width="3.2" />
<path d="M716.5 610 L725 621.5 L725.5 641.5" fill="none" stroke="#000" stroke-width="5.3" stroke-opacity="0.25" />
<path d="M716.5 610 L725 621.5 L725.5 641.5" fill="none" stroke="#000" stroke-width="3.4" />
<path d="M733 604.3 L737.4 606.8 L743.2 620.1 L744.4 638" fill="none" stroke="#2e2e2e" stroke-width="3.8" stroke-opacity="0.25" />
<path d="M733 604.3 L737.4 606.8 L743.2 620.1 L744.4 638" fill="none" stroke="#2e2e2e" stroke-width="1.9" />
<path d="M743.2 620.1 L868 587.5" fill="none" stroke="#2e2e2e" stroke-width="3.8" stroke-opacity="0.25" />
<path d="M743.2 620.1 L868 587.5" fill="none" stroke="#2e2e2e" stroke-width="1.9" />
<path d="M744.4 638 L868 606.7" fill="none" stroke="#2e2e2e" stroke-width="3.8" stroke-opacity="0.25" />
<path d="M744.4 638 L868 606.7" fill="none" stroke="#2e2e2e" stroke-width="1.9" />
<path d="M733 604.3 L768 594.8" fill="none" stroke="#2e2e2e" stroke-width="3.8" stroke-opacity="0.25" />
<path d="M733 604.3 L768 594.8" fill="none" stroke="#2e2e2e" stroke-width="1.9" />
<path d="M789 589.5 L814 583 L816 580.8 L842 576.5 L855.7 572.5" fill="none" stroke="#2e2e2e" stroke-width="3.5" stroke-opacity="0.25" />
<path d="M789 589.5 L814 583 L816 580.8 L842 576.5 L855.7 572.5" fill="none" stroke="#2e2e2e" stroke-width="1.6" />
<path d="M748.9 604.3 L754 607.4 L812.5 591.5 L813.3 588 L815 584.5" fill="none" stroke="#2e2e2e" stroke-width="3.5" stroke-opacity="0.25" />
<path d="M748.9 604.3 L754 607.4 L812.5 591.5 L813.3 588 L815 584.5" fill="none" stroke="#2e2e2e" stroke-width="1.6" />
<path d="M748.9 604.3 L769 598.6" fill="none" stroke="#2e2e2e" stroke-width="3.5" stroke-opacity="0.25" />
<path d="M748.9 604.3 L769 598.6" fill="none" stroke="#2e2e2e" stroke-width="1.6" />
<path d="M770 587 L788 583.5 L789.5 592 L769.5 596.5Z" fill="#222" stroke="none" />
<path d="M770 587 L788 583.5 L789.5 592 L769.5 596.5Z" fill="none" stroke="#222" stroke-width="3.4" stroke-opacity="0.25" />
<path d="M770 587 L788 583.5 L789.5 592 L769.5 596.5Z" fill="none" stroke="#222" stroke-width="1.5" />
<circle cx="830.8" cy="565.4" r="12.6" fill="none" stroke="#333" stroke-width="3.1" stroke-opacity="0.25" stroke-dasharray="2.2 1.6"/>
<circle cx="830.8" cy="565.4" r="12.6" fill="none" stroke="#333" stroke-width="1.2" stroke-dasharray="2.2 1.6"/>
<ellipse cx="830.8" cy="565.4" rx="7.8" ry="5.8" fill="#fff" stroke="none"/>
<ellipse cx="830.8" cy="565.4" rx="7.8" ry="5.8" fill="none" stroke="#111" stroke-width="4.9" stroke-opacity="0.25"/>
<ellipse cx="830.8" cy="565.4" rx="7.8" ry="5.8" fill="none" stroke="#111" stroke-width="3"/>
<path d="M824.5 566.4 L837 564.2 M830 560.5 L832 570.5" fill="none" stroke="#111" stroke-width="4.1" stroke-opacity="0.25" />
<path d="M824.5 566.4 L837 564.2 M830 560.5 L832 570.5" fill="none" stroke="#111" stroke-width="2.2" />
<path d="M536 518 C537.8 515.2 543 506.2 547 501 C551 495.8 554.2 492.2 560 487 C565.8 481.8 573.7 474.3 582 469.5 C590.3 464.7 601.2 460.4 610 458 C618.8 455.6 626.7 454.7 635 455 C643.3 455.3 652.5 457.3 660 460 C667.5 462.7 673.3 466.7 680 471 C686.7 475.3 694.3 481.2 700 486 C705.7 490.8 710.3 496.2 714 500 C717.7 503.8 720.7 507.5 722 509" fill="none" stroke="#2e2e2e" stroke-width="3.7" stroke-opacity="0.25" />
<path d="M536 518 C537.8 515.2 543 506.2 547 501 C551 495.8 554.2 492.2 560 487 C565.8 481.8 573.7 474.3 582 469.5 C590.3 464.7 601.2 460.4 610 458 C618.8 455.6 626.7 454.7 635 455 C643.3 455.3 652.5 457.3 660 460 C667.5 462.7 673.3 466.7 680 471 C686.7 475.3 694.3 481.2 700 486 C705.7 490.8 710.3 496.2 714 500 C717.7 503.8 720.7 507.5 722 509" fill="none" stroke="#2e2e2e" stroke-width="1.8" />
<path d="M712 510 L737.5 501 L735 538.5Z" fill="#000" stroke="none" class="b"/>
<path d="M712 510 L737.5 501 L735 538.5Z" fill="none" stroke="#000" stroke-width="2.9" stroke-opacity="0.25" class="b"/>
<path d="M712 510 L737.5 501 L735 538.5Z" fill="none" stroke="#000" stroke-width="1" class="b"/>
<path d="M847.5 570 L854 570.5 L920.7 628.8 L920 641.2 L931.7 650.5 L917 651.5 L906 681.5 L888.5 672 L873 656.5 L846 637.5 L844 627.5 L850 619.5 L852 607.5 L854 597.5 L859 590.5 L843.5 579.5 L843.5 573.5Z" fill="#fff" stroke="none" stroke-width="0" />
<path d="M892.8 608 C890.6 607.9 886.2 608.2 882 607.5 C877.8 606.8 876.6 607.4 872 604.5 C867.4 601.6 864.2 597.6 859 593 C853.8 588.4 849.1 584.6 846 581.5 C842.9 578.4 843.9 579.1 843.5 577.5 C843.1 575.9 843.2 574.9 843.8 573.5 C844.4 572.1 845.2 571.2 846.5 570.5 C847.8 569.8 849 569.8 850.5 570.2 C852 570.6 853.3 572 854 572.5" fill="none" stroke="#000" stroke-width="6.1" stroke-opacity="0.25" />
<path d="M892.8 608 C890.6 607.9 886.2 608.2 882 607.5 C877.8 606.8 876.6 607.4 872 604.5 C867.4 601.6 864.2 597.6 859 593 C853.8 588.4 849.1 584.6 846 581.5 C842.9 578.4 843.9 579.1 843.5 577.5 C843.1 575.9 843.2 574.9 843.8 573.5 C844.4 572.1 845.2 571.2 846.5 570.5 C847.8 569.8 849 569.8 850.5 570.2 C852 570.6 853.3 572 854 572.5" fill="none" stroke="#000" stroke-width="4.2" />
<path d="M854 572.5 L920.7 628.8" fill="none" stroke="#000" stroke-width="6.1" stroke-opacity="0.25" />
<path d="M854 572.5 L920.7 628.8" fill="none" stroke="#000" stroke-width="4.2" />
<path d="M920.7 628.8 C920.9 629.6 922.1 631.4 922 633.5 C921.9 635.6 920 639 920.3 641.2 C920.6 643.4 922.1 645 924 646.5 C925.9 648 930.4 649.8 931.7 650.5" fill="none" stroke="#000" stroke-width="6.1" stroke-opacity="0.25" />
<path d="M920.7 628.8 C920.9 629.6 922.1 631.4 922 633.5 C921.9 635.6 920 639 920.3 641.2 C920.6 643.4 922.1 645 924 646.5 C925.9 648 930.4 649.8 931.7 650.5" fill="none" stroke="#000" stroke-width="4.2" />
<path d="M892.8 608 L865 611.8 Q858 613 858.2 617.5 Q858.5 622.7 865 622.9 L890 622.9" fill="none" stroke="#000" stroke-width="6.1" stroke-opacity="0.25" />
<path d="M892.8 608 L865 611.8 Q858 613 858.2 617.5 Q858.5 622.7 865 622.9 L890 622.9" fill="none" stroke="#000" stroke-width="4.2" />
<path d="M890 622.9 C890.2 624 890.8 627.1 891.5 629.5 C892.2 631.9 892.8 635.1 894 637.5 C895.2 639.9 896.8 642.2 898.5 644 C900.2 645.8 902.5 647.3 904.5 648.5 C906.5 649.7 908.4 650.5 910.5 651 C912.6 651.5 915.9 651.4 917 651.5" fill="none" stroke="#000" stroke-width="6.1" stroke-opacity="0.25" />
<path d="M890 622.9 C890.2 624 890.8 627.1 891.5 629.5 C892.2 631.9 892.8 635.1 894 637.5 C895.2 639.9 896.8 642.2 898.5 644 C900.2 645.8 902.5 647.3 904.5 648.5 C906.5 649.7 908.4 650.5 910.5 651 C912.6 651.5 915.9 651.4 917 651.5" fill="none" stroke="#000" stroke-width="4.2" />
<path d="M859 593.5 C858.4 594.3 856.4 596.4 855.5 598.5 C854.6 600.6 853.4 604 853.5 606.1 C853.6 608.2 854.9 609.8 856 611 C857.1 612.2 859.3 613.1 860 613.5" fill="none" stroke="#000" stroke-width="6.1" stroke-opacity="0.25" />
<path d="M859 593.5 C858.4 594.3 856.4 596.4 855.5 598.5 C854.6 600.6 853.4 604 853.5 606.1 C853.6 608.2 854.9 609.8 856 611 C857.1 612.2 859.3 613.1 860 613.5" fill="none" stroke="#000" stroke-width="4.2" />
<path d="M856 613.5 C855.4 614 853.2 615.3 852.5 616.5 C851.8 617.7 851.9 618.8 851.5 620.5 C851.1 622.2 850.6 625.5 850.4 626.5" fill="none" stroke="#000" stroke-width="6.1" stroke-opacity="0.25" />
<path d="M856 613.5 C855.4 614 853.2 615.3 852.5 616.5 C851.8 617.7 851.9 618.8 851.5 620.5 C851.1 622.2 850.6 625.5 850.4 626.5" fill="none" stroke="#000" stroke-width="4.2" />
<path d="M862 624.5 C864.8 625.9 869.8 628.2 874 630.5 C878.2 632.8 878.1 632.6 880 634.5 C881.9 636.4 882 636.6 882.2 638.5 C882.4 640.4 882.2 641.1 881 642.5 C879.8 643.9 879.1 644.6 877 644.7 C874.9 644.8 878.2 647.1 872 643 C865.8 638.9 855.4 630.7 850.4 627" fill="none" stroke="#000" stroke-width="6.1" stroke-opacity="0.25" />
<path d="M862 624.5 C864.8 625.9 869.8 628.2 874 630.5 C878.2 632.8 878.1 632.6 880 634.5 C881.9 636.4 882 636.6 882.2 638.5 C882.4 640.4 882.2 641.1 881 642.5 C879.8 643.9 879.1 644.6 877 644.7 C874.9 644.8 878.2 647.1 872 643 C865.8 638.9 855.4 630.7 850.4 627" fill="none" stroke="#000" stroke-width="4.2" />
<path d="M850.4 627 C849.6 627.4 848.2 627.3 847 628.5 C845.8 629.7 845.5 630.2 845.3 632 C845.1 633.8 844.9 634.2 846 636 C847.1 637.8 844.6 635.5 850 639.5 C855.4 643.5 863.5 649.6 869 653 C874.5 656.4 871.8 654.4 873.5 654 C875.2 653.6 875.6 653.5 876.5 651.5 C877.4 649.5 877.3 646.9 877.5 645.5" fill="none" stroke="#000" stroke-width="6.1" stroke-opacity="0.25" />
<path d="M850.4 627 C849.6 627.4 848.2 627.3 847 628.5 C845.8 629.7 845.5 630.2 845.3 632 C845.1 633.8 844.9 634.2 846 636 C847.1 637.8 844.6 635.5 850 639.5 C855.4 643.5 863.5 649.6 869 653 C874.5 656.4 871.8 654.4 873.5 654 C875.2 653.6 875.6 653.5 876.5 651.5 C877.4 649.5 877.3 646.9 877.5 645.5" fill="none" stroke="#000" stroke-width="4.2" />
<path d="M872 655.5 C873.3 656.8 877.2 660.8 880 663.5 C882.8 666.2 886.2 670.3 888.5 672 C890.8 673.7 892.1 672.7 894 673.5 C895.9 674.3 898 675.7 900 677 C902 678.3 905 680.8 906 681.5" fill="none" stroke="#000" stroke-width="6.1" stroke-opacity="0.25" />
<path d="M872 655.5 C873.3 656.8 877.2 660.8 880 663.5 C882.8 666.2 886.2 670.3 888.5 672 C890.8 673.7 892.1 672.7 894 673.5 C895.9 674.3 898 675.7 900 677 C902 678.3 905 680.8 906 681.5" fill="none" stroke="#000" stroke-width="4.2" />
<rect class="b" x="421" y="326" width="461" height="365" fill="none" stroke="#2a2a2a" stroke-width="3.7" stroke-opacity="0.25"/>
<rect class="b" x="421" y="326" width="461" height="365" fill="none" stroke="#2a2a2a" stroke-width="1.8"/>
<clipPath id="cp2b"><rect x="860" y="560" width="80" height="130"/></clipPath>
<g clip-path="url(#cp2b)">
<path d="M847.5 570 L854 570.5 L920.7 628.8 L920 641.2 L931.7 650.5 L917 651.5 L906 681.5 L888.5 672 L873 656.5 L846 637.5 L844 627.5 L850 619.5 L852 607.5 L854 597.5 L859 590.5 L843.5 579.5 L843.5 573.5Z" fill="#fff" stroke="none" stroke-width="0" />
<path d="M892.8 608 C890.6 607.9 886.2 608.2 882 607.5 C877.8 606.8 876.6 607.4 872 604.5 C867.4 601.6 864.2 597.6 859 593 C853.8 588.4 849.1 584.6 846 581.5 C842.9 578.4 843.9 579.1 843.5 577.5 C843.1 575.9 843.2 574.9 843.8 573.5 C844.4 572.1 845.2 571.2 846.5 570.5 C847.8 569.8 849 569.8 850.5 570.2 C852 570.6 853.3 572 854 572.5" fill="none" stroke="#000" stroke-width="6.1" stroke-opacity="0.25" />
<path d="M892.8 608 C890.6 607.9 886.2 608.2 882 607.5 C877.8 606.8 876.6 607.4 872 604.5 C867.4 601.6 864.2 597.6 859 593 C853.8 588.4 849.1 584.6 846 581.5 C842.9 578.4 843.9 579.1 843.5 577.5 C843.1 575.9 843.2 574.9 843.8 573.5 C844.4 572.1 845.2 571.2 846.5 570.5 C847.8 569.8 849 569.8 850.5 570.2 C852 570.6 853.3 572 854 572.5" fill="none" stroke="#000" stroke-width="4.2" />
<path d="M854 572.5 L920.7 628.8" fill="none" stroke="#000" stroke-width="6.1" stroke-opacity="0.25" />
<path d="M854 572.5 L920.7 628.8" fill="none" stroke="#000" stroke-width="4.2" />
<path d="M920.7 628.8 C920.9 629.6 922.1 631.4 922 633.5 C921.9 635.6 920 639 920.3 641.2 C920.6 643.4 922.1 645 924 646.5 C925.9 648 930.4 649.8 931.7 650.5" fill="none" stroke="#000" stroke-width="6.1" stroke-opacity="0.25" />
<path d="M920.7 628.8 C920.9 629.6 922.1 631.4 922 633.5 C921.9 635.6 920 639 920.3 641.2 C920.6 643.4 922.1 645 924 646.5 C925.9 648 930.4 649.8 931.7 650.5" fill="none" stroke="#000" stroke-width="4.2" />
<path d="M892.8 608 L865 611.8 Q858 613 858.2 617.5 Q858.5 622.7 865 622.9 L890 622.9" fill="none" stroke="#000" stroke-width="6.1" stroke-opacity="0.25" />
<path d="M892.8 608 L865 611.8 Q858 613 858.2 617.5 Q858.5 622.7 865 622.9 L890 622.9" fill="none" stroke="#000" stroke-width="4.2" />
<path d="M890 622.9 C890.2 624 890.8 627.1 891.5 629.5 C892.2 631.9 892.8 635.1 894 637.5 C895.2 639.9 896.8 642.2 898.5 644 C900.2 645.8 902.5 647.3 904.5 648.5 C906.5 649.7 908.4 650.5 910.5 651 C912.6 651.5 915.9 651.4 917 651.5" fill="none" stroke="#000" stroke-width="6.1" stroke-opacity="0.25" />
<path d="M890 622.9 C890.2 624 890.8 627.1 891.5 629.5 C892.2 631.9 892.8 635.1 894 637.5 C895.2 639.9 896.8 642.2 898.5 644 C900.2 645.8 902.5 647.3 904.5 648.5 C906.5 649.7 908.4 650.5 910.5 651 C912.6 651.5 915.9 651.4 917 651.5" fill="none" stroke="#000" stroke-width="4.2" />
<path d="M859 593.5 C858.4 594.3 856.4 596.4 855.5 598.5 C854.6 600.6 853.4 604 853.5 606.1 C853.6 608.2 854.9 609.8 856 611 C857.1 612.2 859.3 613.1 860 613.5" fill="none" stroke="#000" stroke-width="6.1" stroke-opacity="0.25" />
<path d="M859 593.5 C858.4 594.3 856.4 596.4 855.5 598.5 C854.6 600.6 853.4 604 853.5 606.1 C853.6 608.2 854.9 609.8 856 611 C857.1 612.2 859.3 613.1 860 613.5" fill="none" stroke="#000" stroke-width="4.2" />
<path d="M856 613.5 C855.4 614 853.2 615.3 852.5 616.5 C851.8 617.7 851.9 618.8 851.5 620.5 C851.1 622.2 850.6 625.5 850.4 626.5" fill="none" stroke="#000" stroke-width="6.1" stroke-opacity="0.25" />
<path d="M856 613.5 C855.4 614 853.2 615.3 852.5 616.5 C851.8 617.7 851.9 618.8 851.5 620.5 C851.1 622.2 850.6 625.5 850.4 626.5" fill="none" stroke="#000" stroke-width="4.2" />
<path d="M862 624.5 C864.8 625.9 869.8 628.2 874 630.5 C878.2 632.8 878.1 632.6 880 634.5 C881.9 636.4 882 636.6 882.2 638.5 C882.4 640.4 882.2 641.1 881 642.5 C879.8 643.9 879.1 644.6 877 644.7 C874.9 644.8 878.2 647.1 872 643 C865.8 638.9 855.4 630.7 850.4 627" fill="none" stroke="#000" stroke-width="6.1" stroke-opacity="0.25" />
<path d="M862 624.5 C864.8 625.9 869.8 628.2 874 630.5 C878.2 632.8 878.1 632.6 880 634.5 C881.9 636.4 882 636.6 882.2 638.5 C882.4 640.4 882.2 641.1 881 642.5 C879.8 643.9 879.1 644.6 877 644.7 C874.9 644.8 878.2 647.1 872 643 C865.8 638.9 855.4 630.7 850.4 627" fill="none" stroke="#000" stroke-width="4.2" />
<path d="M850.4 627 C849.6 627.4 848.2 627.3 847 628.5 C845.8 629.7 845.5 630.2 845.3 632 C845.1 633.8 844.9 634.2 846 636 C847.1 637.8 844.6 635.5 850 639.5 C855.4 643.5 863.5 649.6 869 653 C874.5 656.4 871.8 654.4 873.5 654 C875.2 653.6 875.6 653.5 876.5 651.5 C877.4 649.5 877.3 646.9 877.5 645.5" fill="none" stroke="#000" stroke-width="6.1" stroke-opacity="0.25" />
<path d="M850.4 627 C849.6 627.4 848.2 627.3 847 628.5 C845.8 629.7 845.5 630.2 845.3 632 C845.1 633.8 844.9 634.2 846 636 C847.1 637.8 844.6 635.5 850 639.5 C855.4 643.5 863.5 649.6 869 653 C874.5 656.4 871.8 654.4 873.5 654 C875.2 653.6 875.6 653.5 876.5 651.5 C877.4 649.5 877.3 646.9 877.5 645.5" fill="none" stroke="#000" stroke-width="4.2" />
<path d="M872 655.5 C873.3 656.8 877.2 660.8 880 663.5 C882.8 666.2 886.2 670.3 888.5 672 C890.8 673.7 892.1 672.7 894 673.5 C895.9 674.3 898 675.7 900 677 C902 678.3 905 680.8 906 681.5" fill="none" stroke="#000" stroke-width="6.1" stroke-opacity="0.25" />
<path d="M872 655.5 C873.3 656.8 877.2 660.8 880 663.5 C882.8 666.2 886.2 670.3 888.5 672 C890.8 673.7 892.1 672.7 894 673.5 C895.9 674.3 898 675.7 900 677 C902 678.3 905 680.8 906 681.5" fill="none" stroke="#000" stroke-width="4.2" />
</g>
</g>
<g id="panel3">
<clipPath id="cp3"><rect x="421" y="709.5" width="461" height="281.5"/></clipPath>
<g clip-path="url(#cp3)">
<path d="M436 709.5 C439.2 714.5 447.7 728.3 455 739.5 C462.3 750.7 473.2 765.8 480 776.8 C486.8 787.8 491.8 799.5 495.6 805.5 C499.4 811.5 500.4 810.9 503 813 C505.6 815.1 508 816.8 511 818.2 C514 819.6 517.3 820.7 521 821.5 C524.7 822.3 528.2 823.3 533 822.9 C537.8 822.5 545.3 820.3 550 819 C554.7 817.7 552.7 817.4 561 815 C569.3 812.6 586.8 808 600 804.5 C613.2 801 623.3 798.4 640 794 C656.7 789.6 684.2 782.1 700 778 C715.8 773.9 726.9 771.3 735 769.3 C743.1 767.3 744.6 767.6 748.9 766.1 C753.2 764.6 757.8 762.6 761 760.5 C764.2 758.4 766.5 756 768 753.5 C769.5 751 769.7 749.3 770 745.5 C770.3 741.7 770.3 734.8 770 730.8 C769.7 726.8 769.3 724.9 768 721.3 C766.7 717.7 763 711 762 709" fill="none" stroke="#2e2e2e" stroke-width="3.6" stroke-opacity="0.25" />
<path d="M436 709.5 C439.2 714.5 447.7 728.3 455 739.5 C462.3 750.7 473.2 765.8 480 776.8 C486.8 787.8 491.8 799.5 495.6 805.5 C499.4 811.5 500.4 810.9 503 813 C505.6 815.1 508 816.8 511 818.2 C514 819.6 517.3 820.7 521 821.5 C524.7 822.3 528.2 823.3 533 822.9 C537.8 822.5 545.3 820.3 550 819 C554.7 817.7 552.7 817.4 561 815 C569.3 812.6 586.8 808 600 804.5 C613.2 801 623.3 798.4 640 794 C656.7 789.6 684.2 782.1 700 778 C715.8 773.9 726.9 771.3 735 769.3 C743.1 767.3 744.6 767.6 748.9 766.1 C753.2 764.6 757.8 762.6 761 760.5 C764.2 758.4 766.5 756 768 753.5 C769.5 751 769.7 749.3 770 745.5 C770.3 741.7 770.3 734.8 770 730.8 C769.7 726.8 769.3 724.9 768 721.3 C766.7 717.7 763 711 762 709" fill="none" stroke="#2e2e2e" stroke-width="1.7" />
<path d="M448.8 709.5 C451.5 713.8 459.8 727.3 465 735.5 C470.2 743.7 476.1 752.4 480 758.8 C483.9 765.2 485.8 769.4 488.5 774 C491.2 778.6 494 783.2 496.5 786.5 C499 789.8 500.9 791.7 503.4 793.7 C505.9 795.7 508.3 797.2 511.2 798.7 C514.2 800.2 517.6 801.6 521 802.5 C524.4 803.4 527.2 804.2 531.5 804.1 C535.8 804 542.2 802.8 547 801.8 C551.8 800.8 558.2 798.6 560.5 798" fill="none" stroke="#2e2e2e" stroke-width="3.6" stroke-opacity="0.25" />
<path d="M448.8 709.5 C451.5 713.8 459.8 727.3 465 735.5 C470.2 743.7 476.1 752.4 480 758.8 C483.9 765.2 485.8 769.4 488.5 774 C491.2 778.6 494 783.2 496.5 786.5 C499 789.8 500.9 791.7 503.4 793.7 C505.9 795.7 508.3 797.2 511.2 798.7 C514.2 800.2 517.6 801.6 521 802.5 C524.4 803.4 527.2 804.2 531.5 804.1 C535.8 804 542.2 802.8 547 801.8 C551.8 800.8 558.2 798.6 560.5 798" fill="none" stroke="#2e2e2e" stroke-width="1.7" />
<path d="M731 752.7 C733.3 752.1 740.9 750.1 745 749 C749.1 747.9 752.5 747.1 755.7 745.9 C758.9 744.6 761.6 743.1 764 741.5 C766.4 739.9 769 737.2 770 736.3" fill="none" stroke="#2e2e2e" stroke-width="3.6" stroke-opacity="0.25" />
<path d="M731 752.7 C733.3 752.1 740.9 750.1 745 749 C749.1 747.9 752.5 747.1 755.7 745.9 C758.9 744.6 761.6 743.1 764 741.5 C766.4 739.9 769 737.2 770 736.3" fill="none" stroke="#2e2e2e" stroke-width="1.7" />
<path d="M460 709.5 C461.7 712.2 466.7 720.2 470 725.5 C473.3 730.8 476.7 736.2 480 741.5 C483.3 746.8 486.6 752 490 757.5 C493.4 763 497.8 770.7 500.3 774.5 C502.8 778.3 503.2 778.8 505 780.5 C506.8 782.2 508.7 783.7 511 785 C513.3 786.3 516.3 787.6 519 788.5 C521.7 789.4 523.1 790 527 790.1 C530.9 790.2 537.7 790.1 542.5 789.3 C547.3 788.5 553.8 786.1 556 785.5" fill="none" stroke="#2e2e2e" stroke-width="3.6" stroke-opacity="0.25" />
<path d="M460 709.5 C461.7 712.2 466.7 720.2 470 725.5 C473.3 730.8 476.7 736.2 480 741.5 C483.3 746.8 486.6 752 490 757.5 C493.4 763 497.8 770.7 500.3 774.5 C502.8 778.3 503.2 778.8 505 780.5 C506.8 782.2 508.7 783.7 511 785 C513.3 786.3 516.3 787.6 519 788.5 C521.7 789.4 523.1 790 527 790.1 C530.9 790.2 537.7 790.1 542.5 789.3 C547.3 788.5 553.8 786.1 556 785.5" fill="none" stroke="#2e2e2e" stroke-width="1.7" />
<path d="M727.5 741 C729.6 740.3 736.4 738.2 740 737 C743.6 735.8 746.4 735.1 748.9 733.5 C751.4 731.9 753.4 729.5 755 727.5 C756.6 725.5 757.8 723.5 758.4 721.3 C759 719.1 758.5 716.5 758.4 714.5 C758.3 712.5 757.9 709.9 757.8 709" fill="none" stroke="#2e2e2e" stroke-width="3.6" stroke-opacity="0.25" />
<path d="M727.5 741 C729.6 740.3 736.4 738.2 740 737 C743.6 735.8 746.4 735.1 748.9 733.5 C751.4 731.9 753.4 729.5 755 727.5 C756.6 725.5 757.8 723.5 758.4 721.3 C759 719.1 758.5 716.5 758.4 714.5 C758.3 712.5 757.9 709.9 757.8 709" fill="none" stroke="#2e2e2e" stroke-width="1.7" />
<path d="M551 777.5 L720 734.3" fill="none" stroke="#000" stroke-width="4.5" stroke-opacity="0.25" />
<path d="M551 777.5 L720 734.3" fill="none" stroke="#000" stroke-width="2.6" />
<path d="M551 777.5 L558 788.5 L561 797.5 L561.5 810.5" fill="none" stroke="#2e2e2e" stroke-width="3.6" stroke-opacity="0.25" />
<path d="M551 777.5 L558 788.5 L561 797.5 L561.5 810.5" fill="none" stroke="#2e2e2e" stroke-width="1.7" />
<path d="M561.5 810 L730.4 767.8 L730.4 752.5 L727 741.1 L720 734.3" fill="none" stroke="#2e2e2e" stroke-width="3.6" stroke-opacity="0.25" />
<path d="M561.5 810 L730.4 767.8 L730.4 752.5 L727 741.1 L720 734.3" fill="none" stroke="#2e2e2e" stroke-width="1.7" />
<path d="M712.6 737.5 L728.6 766" fill="none" stroke="#2e2e2e" stroke-width="3.6" stroke-opacity="0.25" />
<path d="M712.6 737.5 L728.6 766" fill="none" stroke="#2e2e2e" stroke-width="1.7" />
</g>
<rect class="b" x="421" y="709.5" width="461" height="281.5" fill="none" stroke="#2a2a2a" stroke-width="3.7" stroke-opacity="0.25"/>
<rect class="b" x="421" y="709.5" width="461" height="281.5" fill="none" stroke="#2a2a2a" stroke-width="1.8"/>
<path d="M647.7 773.6 L694.5 812 L681 818 L694.5 845.5 L680.5 853 L668.8 826.7 L652 833.8Z" fill="#000" stroke="none" class="b"/>
<path d="M647.7 773.6 L694.5 812 L681 818 L694.5 845.5 L680.5 853 L668.8 826.7 L652 833.8Z" fill="none" stroke="#000" stroke-width="2.9" stroke-opacity="0.25" class="b"/>
<path d="M647.7 773.6 L694.5 812 L681 818 L694.5 845.5 L680.5 853 L668.8 826.7 L652 833.8Z" fill="none" stroke="#000" stroke-width="1" class="b"/>
<path d="M640.2 880.6 L655.4 877.5 L662.4 888.9 L700 863.5 L749.5 851.5 L765 848.3 L773 864.5 L792.5 872.5 L811 886.5 L820.6 896 L855.7 954.7 L868 965.6 L868 990.2 L744.4 1021.5 L733.6 1006.8 L726 1004.3 L724.7 1025.9 L702 1030.9 L691 1018.2 L685 1017 L682.2 1014.5 L679 995.5 L672 987.9 L655.4 958.5 L645.2 939.5 L643.3 927 L644 906.5 L640.2 894Z" fill="#fff" stroke="none" stroke-width="0" />
<path d="M640.2 880.6 L655.4 877.5 L662.4 888.9 L649 893.3Z" fill="none" stroke="#2e2e2e" stroke-width="3.7" stroke-opacity="0.25" />
<path d="M640.2 880.6 L655.4 877.5 L662.4 888.9 L649 893.3Z" fill="none" stroke="#2e2e2e" stroke-width="1.8" />
<path d="M640.2 880.6 L640.2 894 L647.8 904.1 L649 893.3" fill="none" stroke="#2e2e2e" stroke-width="3.7" stroke-opacity="0.25" />
<path d="M640.2 880.6 L640.2 894 L647.8 904.1 L649 893.3" fill="none" stroke="#2e2e2e" stroke-width="1.8" />
<path d="M662.4 888.9 L662.8 901.5 L663.6 904.1" fill="none" stroke="#2e2e2e" stroke-width="3.7" stroke-opacity="0.25" />
<path d="M662.4 888.9 L662.8 901.5 L663.6 904.1" fill="none" stroke="#2e2e2e" stroke-width="1.8" />
<path d="M644 901.5 C643.9 903.5 643.6 909.2 643.5 913.5 C643.4 917.8 643 922.7 643.3 927 C643.6 931.3 643.9 935.6 645.2 939.5 C646.5 943.4 649.3 947.3 651 950.5 C652.7 953.7 653.9 955.9 655.4 958.5 C656.9 961.1 657.2 961.3 660 966.2 C662.8 971.1 668.8 983 672 987.9 C675.2 992.8 677.5 992.6 679 995.5 C680.5 998.4 680.5 1002.3 681 1005.5 C681.5 1008.7 681.5 1012.6 682.2 1014.5 C682.9 1016.4 683.7 1016.5 685 1017 C686.3 1017.5 689.2 1017.2 690 1017.3" fill="none" stroke="#2e2e2e" stroke-width="3.8" stroke-opacity="0.25" />
<path d="M644 901.5 C643.9 903.5 643.6 909.2 643.5 913.5 C643.4 917.8 643 922.7 643.3 927 C643.6 931.3 643.9 935.6 645.2 939.5 C646.5 943.4 649.3 947.3 651 950.5 C652.7 953.7 653.9 955.9 655.4 958.5 C656.9 961.1 657.2 961.3 660 966.2 C662.8 971.1 668.8 983 672 987.9 C675.2 992.8 677.5 992.6 679 995.5 C680.5 998.4 680.5 1002.3 681 1005.5 C681.5 1008.7 681.5 1012.6 682.2 1014.5 C682.9 1016.4 683.7 1016.5 685 1017 C686.3 1017.5 689.2 1017.2 690 1017.3" fill="none" stroke="#2e2e2e" stroke-width="1.9" />
<path d="M648.4 905.5 C648.3 907.7 647.9 914.5 647.8 918.5 C647.7 922.5 647.1 925.7 647.8 929.5 C648.5 933.3 650 937.6 652 941.5 C654 945.4 657 948.3 660 953 C663 957.7 667.2 965.2 670 969.5 C672.8 973.8 674.7 975.4 676.5 978.9 C678.3 982.4 679.8 986.5 681 990.5 C682.2 994.5 682.4 1000.7 684 1003 C685.6 1005.3 689.4 1004.1 690.5 1004.3" fill="none" stroke="#2e2e2e" stroke-width="3.8" stroke-opacity="0.25" />
<path d="M648.4 905.5 C648.3 907.7 647.9 914.5 647.8 918.5 C647.7 922.5 647.1 925.7 647.8 929.5 C648.5 933.3 650 937.6 652 941.5 C654 945.4 657 948.3 660 953 C663 957.7 667.2 965.2 670 969.5 C672.8 973.8 674.7 975.4 676.5 978.9 C678.3 982.4 679.8 986.5 681 990.5 C682.2 994.5 682.4 1000.7 684 1003 C685.6 1005.3 689.4 1004.1 690.5 1004.3" fill="none" stroke="#2e2e2e" stroke-width="1.9" />
<path d="M656 894.5 C655.4 896.8 653.4 903.7 652.5 908.5 C651.6 913.3 650.6 919 650.5 923.5 C650.4 928 650.9 931.8 652 935.5 C653.1 939.2 656.2 943.8 657 945.5" fill="none" stroke="#2e2e2e" stroke-width="3.5" stroke-opacity="0.25" />
<path d="M656 894.5 C655.4 896.8 653.4 903.7 652.5 908.5 C651.6 913.3 650.6 919 650.5 923.5 C650.4 928 650.9 931.8 652 935.5 C653.1 939.2 656.2 943.8 657 945.5" fill="none" stroke="#2e2e2e" stroke-width="1.6" />
<path d="M660.5 897.5 C659.7 899.7 656.7 906 655.5 910.5 C654.3 915 653.8 922.2 653.5 924.5" fill="none" stroke="#2e2e2e" stroke-width="3.5" stroke-opacity="0.25" />
<path d="M660.5 897.5 C659.7 899.7 656.7 906 655.5 910.5 C654.3 915 653.8 922.2 653.5 924.5" fill="none" stroke="#2e2e2e" stroke-width="1.6" />
<path d="M749.5 851.5 L765 848.3 L773 864.5 L757.3 867.1Z" fill="none" stroke="#2e2e2e" stroke-width="3.7" stroke-opacity="0.25" />
<path d="M749.5 851.5 L765 848.3 L773 864.5 L757.3 867.1Z" fill="none" stroke="#2e2e2e" stroke-width="1.8" />
<path d="M749.5 851.5 L750.3 867.9 L758 878.8 L757.3 867.1" fill="none" stroke="#2e2e2e" stroke-width="3.7" stroke-opacity="0.25" />
<path d="M749.5 851.5 L750.3 867.9 L758 878.8 L757.3 867.1" fill="none" stroke="#2e2e2e" stroke-width="1.8" />
<path d="M773 864.5 C774.7 865.1 779.8 866.7 783 868 C786.2 869.3 789.3 870.7 792.5 872.5 C795.7 874.3 798.9 876.7 802 879 C805.1 881.3 807.9 883.7 811 886.5 C814.1 889.3 819 894.4 820.6 896" fill="none" stroke="#2e2e2e" stroke-width="3.8" stroke-opacity="0.25" />
<path d="M773 864.5 C774.7 865.1 779.8 866.7 783 868 C786.2 869.3 789.3 870.7 792.5 872.5 C795.7 874.3 798.9 876.7 802 879 C805.1 881.3 807.9 883.7 811 886.5 C814.1 889.3 819 894.4 820.6 896" fill="none" stroke="#2e2e2e" stroke-width="1.9" />
<path d="M820.6 896 L855.7 954.7 L868 965.6 L868 990.2" fill="none" stroke="#2e2e2e" stroke-width="3.8" stroke-opacity="0.25" />
<path d="M820.6 896 L855.7 954.7 L868 965.6 L868 990.2" fill="none" stroke="#2e2e2e" stroke-width="1.9" />
<path d="M773.8 867.1 C776.9 868.4 786.8 871.4 792.5 874.9 C798.2 878.4 803.6 883.4 808 888.2 C812.4 893 816.5 898.5 819 903.5 C821.5 908.5 822.5 913.9 823 917.9 C823.5 921.9 822.2 925.7 822 927.2" fill="none" stroke="#2e2e2e" stroke-width="3.5" stroke-opacity="0.25" />
<path d="M773.8 867.1 C776.9 868.4 786.8 871.4 792.5 874.9 C798.2 878.4 803.6 883.4 808 888.2 C812.4 893 816.5 898.5 819 903.5 C821.5 908.5 822.5 913.9 823 917.9 C823.5 921.9 822.2 925.7 822 927.2" fill="none" stroke="#2e2e2e" stroke-width="1.6" />
<path d="M732.4 990.3 C728.1 988.4 719.4 984.6 711 981 C702.6 977.4 695.1 974 690.5 972.5 C685.9 971 688.6 972.9 688 973.5 C687.4 974.1 686.7 974 687.3 975.7 C687.9 977.4 689.1 979.6 691 982 C692.9 984.4 694.4 986 696.8 987.8 C699.2 989.6 700.2 990 703 991 C705.8 992 709.2 992.5 710.8 992.9" fill="none" stroke="#2e2e2e" stroke-width="3.8" stroke-opacity="0.25" />
<path d="M732.4 990.3 C728.1 988.4 719.4 984.6 711 981 C702.6 977.4 695.1 974 690.5 972.5 C685.9 971 688.6 972.9 688 973.5 C687.4 974.1 686.7 974 687.3 975.7 C687.9 977.4 689.1 979.6 691 982 C692.9 984.4 694.4 986 696.8 987.8 C699.2 989.6 700.2 990 703 991 C705.8 992 709.2 992.5 710.8 992.9" fill="none" stroke="#2e2e2e" stroke-width="1.9" />
<path d="M691.7 977 L728.6 991.5 L736.2 999.2 L742.5 1010.5" fill="none" stroke="#2e2e2e" stroke-width="3.5" stroke-opacity="0.25" />
<path d="M691.7 977 L728.6 991.5 L736.2 999.2 L742.5 1010.5" fill="none" stroke="#2e2e2e" stroke-width="1.6" />
<path d="M726 1001.7 C727.3 1002.6 731.4 1005 733.6 1006.8 C735.8 1008.6 737.3 1010.2 739 1012.5 C740.7 1014.8 743 1019.2 743.8 1020.5" fill="none" stroke="#2e2e2e" stroke-width="3.8" stroke-opacity="0.25" />
<path d="M726 1001.7 C727.3 1002.6 731.4 1005 733.6 1006.8 C735.8 1008.6 737.3 1010.2 739 1012.5 C740.7 1014.8 743 1019.2 743.8 1020.5" fill="none" stroke="#2e2e2e" stroke-width="1.9" />
<path d="M690.5 998.5 L715.9 992.9 L723.5 1008.1 L700.6 1013.2Z" fill="none" stroke="#2e2e2e" stroke-width="3.7" stroke-opacity="0.25" />
<path d="M690.5 998.5 L715.9 992.9 L723.5 1008.1 L700.6 1013.2Z" fill="none" stroke="#2e2e2e" stroke-width="1.8" />
<path d="M690.5 998.5 L691 1018.2 L701.9 1030.9 L724.7 1025.9" fill="none" stroke="#2e2e2e" stroke-width="3.7" stroke-opacity="0.25" />
<path d="M690.5 998.5 L691 1018.2 L701.9 1030.9 L724.7 1025.9" fill="none" stroke="#2e2e2e" stroke-width="1.8" />
<path d="M700.6 1013.2 L701.9 1030.9" fill="none" stroke="#000" stroke-width="5.1" stroke-opacity="0.25" />
<path d="M700.6 1013.2 L701.9 1030.9" fill="none" stroke="#000" stroke-width="3.2" />
<path d="M716.5 993.5 L725 1005 L725.5 1025" fill="none" stroke="#000" stroke-width="5.3" stroke-opacity="0.25" />
<path d="M716.5 993.5 L725 1005 L725.5 1025" fill="none" stroke="#000" stroke-width="3.4" />
<path d="M733 987.8 L737.4 990.3 L743.2 1003.6 L744.4 1021.5" fill="none" stroke="#2e2e2e" stroke-width="3.8" stroke-opacity="0.25" />
<path d="M733 987.8 L737.4 990.3 L743.2 1003.6 L744.4 1021.5" fill="none" stroke="#2e2e2e" stroke-width="1.9" />
<path d="M743.2 1003.6 L868 971" fill="none" stroke="#2e2e2e" stroke-width="3.8" stroke-opacity="0.25" />
<path d="M743.2 1003.6 L868 971" fill="none" stroke="#2e2e2e" stroke-width="1.9" />
<path d="M744.4 1021.5 L868 990.2" fill="none" stroke="#2e2e2e" stroke-width="3.8" stroke-opacity="0.25" />
<path d="M744.4 1021.5 L868 990.2" fill="none" stroke="#2e2e2e" stroke-width="1.9" />
<path d="M733 987.8 L768 978.3" fill="none" stroke="#2e2e2e" stroke-width="3.8" stroke-opacity="0.25" />
<path d="M733 987.8 L768 978.3" fill="none" stroke="#2e2e2e" stroke-width="1.9" />
<path d="M789 973 L814 966.5 L816 964.3 L842 960 L855.7 956" fill="none" stroke="#2e2e2e" stroke-width="3.5" stroke-opacity="0.25" />
<path d="M789 973 L814 966.5 L816 964.3 L842 960 L855.7 956" fill="none" stroke="#2e2e2e" stroke-width="1.6" />
<path d="M748.9 987.8 L754 990.9 L812.5 975 L813.3 971.5 L815 968" fill="none" stroke="#2e2e2e" stroke-width="3.5" stroke-opacity="0.25" />
<path d="M748.9 987.8 L754 990.9 L812.5 975 L813.3 971.5 L815 968" fill="none" stroke="#2e2e2e" stroke-width="1.6" />
<path d="M748.9 987.8 L769 982.1" fill="none" stroke="#2e2e2e" stroke-width="3.5" stroke-opacity="0.25" />
<path d="M748.9 987.8 L769 982.1" fill="none" stroke="#2e2e2e" stroke-width="1.6" />
<path d="M770 970.5 L788 967 L789.5 975.5 L769.5 980Z" fill="#222" stroke="none" />
<path d="M770 970.5 L788 967 L789.5 975.5 L769.5 980Z" fill="none" stroke="#222" stroke-width="3.4" stroke-opacity="0.25" />
<path d="M770 970.5 L788 967 L789.5 975.5 L769.5 980Z" fill="none" stroke="#222" stroke-width="1.5" />
<circle cx="830.8" cy="948.9" r="12.6" fill="none" stroke="#333" stroke-width="3.1" stroke-opacity="0.25" stroke-dasharray="2.2 1.6"/>
<circle cx="830.8" cy="948.9" r="12.6" fill="none" stroke="#333" stroke-width="1.2" stroke-dasharray="2.2 1.6"/>
<ellipse cx="830.8" cy="948.9" rx="7.8" ry="5.8" fill="#fff" stroke="none"/>
<ellipse cx="830.8" cy="948.9" rx="7.8" ry="5.8" fill="none" stroke="#111" stroke-width="4.9" stroke-opacity="0.25"/>
<ellipse cx="830.8" cy="948.9" rx="7.8" ry="5.8" fill="none" stroke="#111" stroke-width="3"/>
<path d="M824.5 949.9 L837 947.7 M830 944 L832 954" fill="none" stroke="#111" stroke-width="4.1" stroke-opacity="0.25" />
<path d="M824.5 949.9 L837 947.7 M830 944 L832 954" fill="none" stroke="#111" stroke-width="2.2" />
<ellipse cx="736.6" cy="918.5" rx="87" ry="55" fill="#fff" stroke="none"/>
<ellipse cx="736.6" cy="918.5" rx="87" ry="55" fill="none" stroke="#1c1c1c" stroke-width="3.7" stroke-opacity="0.25"/>
<ellipse cx="736.6" cy="918.5" rx="87" ry="55" fill="none" stroke="#1c1c1c" stroke-width="1.8"/>
<path d="M734.5 935.5 L756 930.4 M742 927 L749.3 940.8" fill="none" stroke="#222" stroke-width="4.3" stroke-opacity="0.25" />
<path d="M734.5 935.5 L756 930.4 M742 927 L749.3 940.8" fill="none" stroke="#222" stroke-width="2.4" />
</g>
<g id="remote">
<path d="M118.5 622 C118.7 623.6 118.2 628.4 119.5 631.5 C120.8 634.6 122.9 638.2 126 640.5 C129.1 642.8 132.3 644.2 138 645 C143.7 645.8 141.7 645.8 160 645 C178.3 644.2 227.2 641.6 248 640 C268.8 638.4 276.7 636.9 285 635.5 C293.3 634.1 294.2 632.9 297.7 631.4 C301.2 629.9 303.7 628.6 306 626.5 C308.3 624.4 310.2 621.8 311.5 619 C312.8 616.2 313.2 611.5 313.5 610" fill="none" stroke="#2e2e2e" stroke-width="3.4" stroke-opacity="0.25" />
<path d="M118.5 622 C118.7 623.6 118.2 628.4 119.5 631.5 C120.8 634.6 122.9 638.2 126 640.5 C129.1 642.8 132.3 644.2 138 645 C143.7 645.8 141.7 645.8 160 645 C178.3 644.2 227.2 641.6 248 640 C268.8 638.4 276.7 636.9 285 635.5 C293.3 634.1 294.2 632.9 297.7 631.4 C301.2 629.9 303.7 628.6 306 626.5 C308.3 624.4 310.2 621.8 311.5 619 C312.8 616.2 313.2 611.5 313.5 610" fill="none" stroke="#2e2e2e" stroke-width="1.5" />
<path d="M88.7 325.6 C87.3 311.3 95.9 301 110.2 300 L256.4 289.3 C270.7 288.3 281.3 297.2 282.7 311.5 L311.7 597.5 C313.3 613.1 303.9 624.2 288.4 625.4 L145.9 636.2 C130.4 637.4 119 627.9 117.4 612.3 Z" fill="#fff" stroke="none" />
<path d="M88.7 325.6 C87.3 311.3 95.9 301 110.2 300 L256.4 289.3 C270.7 288.3 281.3 297.2 282.7 311.5 L311.7 597.5 C313.3 613.1 303.9 624.2 288.4 625.4 L145.9 636.2 C130.4 637.4 119 627.9 117.4 612.3 Z" fill="none" stroke="#000" stroke-width="5.7" stroke-opacity="0.25" />
<path d="M88.7 325.6 C87.3 311.3 95.9 301 110.2 300 L256.4 289.3 C270.7 288.3 281.3 297.2 282.7 311.5 L311.7 597.5 C313.3 613.1 303.9 624.2 288.4 625.4 L145.9 636.2 C130.4 637.4 119 627.9 117.4 612.3 Z" fill="none" stroke="#000" stroke-width="3.8" />
<path d="M101 331.5 C100.7 328.5 102.5 326.3 105.5 326.1 L265.8 312.2 C268.8 312 271 313.8 271.4 316.8 L274.6 342.5 C275 345.5 273.2 347.7 270.2 347.9 L108.6 360.1 C105.6 360.3 103.4 358.5 103.1 355.5 Z" fill="none" stroke="#2e2e2e" stroke-width="3.8" stroke-opacity="0.25" />
<path d="M101 331.5 C100.7 328.5 102.5 326.3 105.5 326.1 L265.8 312.2 C268.8 312 271 313.8 271.4 316.8 L274.6 342.5 C275 345.5 273.2 347.7 270.2 347.9 L108.6 360.1 C105.6 360.3 103.4 358.5 103.1 355.5 Z" fill="none" stroke="#2e2e2e" stroke-width="1.9" />
<path d="M106 369.5 C105.7 366.5 107.5 364.3 110.5 364.1 L270.5 351.9 C273.5 351.7 275.7 353.5 276 356.5 L290.5 511 C290.8 514 289 516.1 286 516.4 L125.6 528.4 C122.6 528.7 120.4 526.8 120.1 523.8 Z" fill="none" stroke="#2e2e2e" stroke-width="3.8" stroke-opacity="0.25" />
<path d="M106 369.5 C105.7 366.5 107.5 364.3 110.5 364.1 L270.5 351.9 C273.5 351.7 275.7 353.5 276 356.5 L290.5 511 C290.8 514 289 516.1 286 516.4 L125.6 528.4 C122.6 528.7 120.4 526.8 120.1 523.8 Z" fill="none" stroke="#2e2e2e" stroke-width="1.9" />
<path d="M122.9 539 C122.7 536 124.5 533.8 127.5 533.6 L287.6 520.9 C290.6 520.7 292.8 522.5 293 525.5 L297.2 575 C297.4 578 295.6 580.2 292.6 580.4 L132.6 593.6 C129.6 593.8 127.4 592 127.2 589 Z" fill="none" stroke="#2e2e2e" stroke-width="3.8" stroke-opacity="0.25" />
<path d="M122.9 539 C122.7 536 124.5 533.8 127.5 533.6 L287.6 520.9 C290.6 520.7 292.8 522.5 293 525.5 L297.2 575 C297.4 578 295.6 580.2 292.6 580.4 L132.6 593.6 C129.6 593.8 127.4 592 127.2 589 Z" fill="none" stroke="#2e2e2e" stroke-width="1.9" />
<ellipse cx="134.8" cy="340.5" rx="20" ry="17.5" transform="rotate(-5 134.8 340.5)" fill="#fff" stroke="none"/>
<ellipse cx="134.8" cy="340.5" rx="20" ry="17.5" transform="rotate(-5 134.8 340.5)" fill="none" stroke="#1c1c1c" stroke-width="3.8" stroke-opacity="0.25"/>
<ellipse cx="134.8" cy="340.5" rx="20" ry="17.5" transform="rotate(-5 134.8 340.5)" fill="none" stroke="#1c1c1c" stroke-width="1.9"/>
<text x="134.8" y="344.7" transform="rotate(-5 134.8 344.7)" text-anchor="middle" font-family="'Liberation Sans',sans-serif" font-weight="bold" font-size="11" fill="#111" textLength="18.5" lengthAdjust="spacingAndGlyphs" stroke="#111" stroke-width="1.2" stroke-linejoin="round">ON</text>
<ellipse cx="188" cy="336" rx="20" ry="17.5" transform="rotate(-5 188 336)" fill="#fff" stroke="none"/>
<ellipse cx="188" cy="336" rx="20" ry="17.5" transform="rotate(-5 188 336)" fill="none" stroke="#1c1c1c" stroke-width="3.8" stroke-opacity="0.25"/>
<ellipse cx="188" cy="336" rx="20" ry="17.5" transform="rotate(-5 188 336)" fill="none" stroke="#1c1c1c" stroke-width="1.9"/>
<text x="188" y="339.2" transform="rotate(-5 188 339.2)" text-anchor="middle" font-family="'Liberation Sans',sans-serif" font-weight="bold" font-size="8.5" fill="#111" textLength="28" lengthAdjust="spacingAndGlyphs" stroke="#111" stroke-width="1.1" stroke-linejoin="round">TIMER</text>
<ellipse cx="240.6" cy="332.2" rx="20" ry="17.5" transform="rotate(-5 240.6 332.2)" fill="#fff" stroke="none"/>
<ellipse cx="240.6" cy="332.2" rx="20" ry="17.5" transform="rotate(-5 240.6 332.2)" fill="none" stroke="#1c1c1c" stroke-width="3.8" stroke-opacity="0.25"/>
<ellipse cx="240.6" cy="332.2" rx="20" ry="17.5" transform="rotate(-5 240.6 332.2)" fill="none" stroke="#1c1c1c" stroke-width="1.9"/>
<text x="240.6" y="336.2" transform="rotate(-5 240.6 336.2)" text-anchor="middle" font-family="'Liberation Sans',sans-serif" font-weight="bold" font-size="11" fill="#111" textLength="24" lengthAdjust="spacingAndGlyphs" stroke="#111" stroke-width="1.2" stroke-linejoin="round">OFF</text>
<path d="M177.5 362 L204.5 359.8 L205 367.6 L178 369.8Z" fill="#1a1a1a" stroke="none" />
<path d="M177.5 362 L204.5 359.8 L205 367.6 L178 369.8Z" fill="none" stroke="#1a1a1a" stroke-width="2.9" stroke-opacity="0.25" />
<path d="M177.5 362 L204.5 359.8 L205 367.6 L178 369.8Z" fill="none" stroke="#1a1a1a" stroke-width="1" />
<text x="191.2" y="367.4" transform="rotate(-5 191.2 367.4)" text-anchor="middle" font-family="'Liberation Sans',sans-serif" font-weight="bold" font-size="6.5" fill="#777" textLength="22" lengthAdjust="spacingAndGlyphs">MODE</text>
<ellipse cx="138" cy="381" rx="20" ry="18" transform="rotate(-5 138 381)" fill="#fff" stroke="none"/>
<ellipse cx="138" cy="381" rx="20" ry="18" transform="rotate(-5 138 381)" fill="none" stroke="#1c1c1c" stroke-width="3.8" stroke-opacity="0.25"/>
<ellipse cx="138" cy="381" rx="20" ry="18" transform="rotate(-5 138 381)" fill="none" stroke="#1c1c1c" stroke-width="1.9"/>
<text x="138" y="388.3" transform="rotate(-5 138 388.3)" text-anchor="middle" font-family="'Liberation Sans',sans-serif" font-weight="bold" font-size="21" fill="#111" textLength="13" lengthAdjust="spacingAndGlyphs" stroke="#111" stroke-width="0.9" stroke-linejoin="round">1</text>
<ellipse cx="245.2" cy="372" rx="20" ry="18" transform="rotate(-5 245.2 372)" fill="#fff" stroke="none"/>
<ellipse cx="245.2" cy="372" rx="20" ry="18" transform="rotate(-5 245.2 372)" fill="none" stroke="#1c1c1c" stroke-width="3.8" stroke-opacity="0.25"/>
<ellipse cx="245.2" cy="372" rx="20" ry="18" transform="rotate(-5 245.2 372)" fill="none" stroke="#1c1c1c" stroke-width="1.9"/>
<text x="245.2" y="379.3" transform="rotate(-5 245.2 379.3)" text-anchor="middle" font-family="'Liberation Sans',sans-serif" font-weight="bold" font-size="21" fill="#111" textLength="13" lengthAdjust="spacingAndGlyphs" stroke="#111" stroke-width="0.9" stroke-linejoin="round">2</text>
<ellipse cx="142.9" cy="422.4" rx="20" ry="18" transform="rotate(-5 142.9 422.4)" fill="#fff" stroke="none"/>
<ellipse cx="142.9" cy="422.4" rx="20" ry="18" transform="rotate(-5 142.9 422.4)" fill="none" stroke="#1c1c1c" stroke-width="3.8" stroke-opacity="0.25"/>
<ellipse cx="142.9" cy="422.4" rx="20" ry="18" transform="rotate(-5 142.9 422.4)" fill="none" stroke="#1c1c1c" stroke-width="1.9"/>
<text x="142.9" y="429.7" transform="rotate(-5 142.9 429.7)" text-anchor="middle" font-family="'Liberation Sans',sans-serif" font-weight="bold" font-size="21" fill="#111" textLength="13" lengthAdjust="spacingAndGlyphs" stroke="#111" stroke-width="0.9" stroke-linejoin="round">3</text>
<ellipse cx="249.8" cy="414" rx="20" ry="18" transform="rotate(-5 249.8 414)" fill="#fff" stroke="none"/>
<ellipse cx="249.8" cy="414" rx="20" ry="18" transform="rotate(-5 249.8 414)" fill="none" stroke="#1c1c1c" stroke-width="3.8" stroke-opacity="0.25"/>
<ellipse cx="249.8" cy="414" rx="20" ry="18" transform="rotate(-5 249.8 414)" fill="none" stroke="#1c1c1c" stroke-width="1.9"/>
<text x="249.8" y="421.3" transform="rotate(-5 249.8 421.3)" text-anchor="middle" font-family="'Liberation Sans',sans-serif" font-weight="bold" font-size="21" fill="#111" textLength="13" lengthAdjust="spacingAndGlyphs" stroke="#111" stroke-width="0.9" stroke-linejoin="round">4</text>
<ellipse cx="147.5" cy="464.3" rx="20" ry="18" transform="rotate(-5 147.5 464.3)" fill="#fff" stroke="none"/>
<ellipse cx="147.5" cy="464.3" rx="20" ry="18" transform="rotate(-5 147.5 464.3)" fill="none" stroke="#1c1c1c" stroke-width="3.8" stroke-opacity="0.25"/>
<ellipse cx="147.5" cy="464.3" rx="20" ry="18" transform="rotate(-5 147.5 464.3)" fill="none" stroke="#1c1c1c" stroke-width="1.9"/>
<text x="147.5" y="471.6" transform="rotate(-5 147.5 471.6)" text-anchor="middle" font-family="'Liberation Sans',sans-serif" font-weight="bold" font-size="21" fill="#111" textLength="13" lengthAdjust="spacingAndGlyphs" stroke="#111" stroke-width="0.9" stroke-linejoin="round">5</text>
<ellipse cx="254" cy="455.4" rx="20" ry="18" transform="rotate(-5 254 455.4)" fill="#fff" stroke="none"/>
<ellipse cx="254" cy="455.4" rx="20" ry="18" transform="rotate(-5 254 455.4)" fill="none" stroke="#1c1c1c" stroke-width="3.8" stroke-opacity="0.25"/>
<ellipse cx="254" cy="455.4" rx="20" ry="18" transform="rotate(-5 254 455.4)" fill="none" stroke="#1c1c1c" stroke-width="1.9"/>
<text x="254" y="462.7" transform="rotate(-5 254 462.7)" text-anchor="middle" font-family="'Liberation Sans',sans-serif" font-weight="bold" font-size="21" fill="#111" textLength="13" lengthAdjust="spacingAndGlyphs" stroke="#111" stroke-width="0.9" stroke-linejoin="round">6</text>
<ellipse cx="151.8" cy="507.4" rx="20" ry="18" transform="rotate(-5 151.8 507.4)" fill="#fff" stroke="none"/>
<ellipse cx="151.8" cy="507.4" rx="20" ry="18" transform="rotate(-5 151.8 507.4)" fill="none" stroke="#1c1c1c" stroke-width="3.8" stroke-opacity="0.25"/>
<ellipse cx="151.8" cy="507.4" rx="20" ry="18" transform="rotate(-5 151.8 507.4)" fill="none" stroke="#1c1c1c" stroke-width="1.9"/>
<text x="151.8" y="514.7" transform="rotate(-5 151.8 514.7)" text-anchor="middle" font-family="'Liberation Sans',sans-serif" font-weight="bold" font-size="21" fill="#111" textLength="13" lengthAdjust="spacingAndGlyphs" stroke="#111" stroke-width="0.9" stroke-linejoin="round">7</text>
<ellipse cx="258.4" cy="498.5" rx="20" ry="18" transform="rotate(-5 258.4 498.5)" fill="#fff" stroke="none"/>
<ellipse cx="258.4" cy="498.5" rx="20" ry="18" transform="rotate(-5 258.4 498.5)" fill="none" stroke="#1c1c1c" stroke-width="3.8" stroke-opacity="0.25"/>
<ellipse cx="258.4" cy="498.5" rx="20" ry="18" transform="rotate(-5 258.4 498.5)" fill="none" stroke="#1c1c1c" stroke-width="1.9"/>
<text x="258.4" y="505.8" transform="rotate(-5 258.4 505.8)" text-anchor="middle" font-family="'Liberation Sans',sans-serif" font-weight="bold" font-size="21" fill="#111" textLength="13" lengthAdjust="spacingAndGlyphs" stroke="#111" stroke-width="0.9" stroke-linejoin="round">8</text>
<path d="M199.5 528.6 L215.8 527.3 L216.3 535 L200 536.3Z" fill="#1a1a1a" stroke="none" />
<path d="M199.5 528.6 L215.8 527.3 L216.3 535 L200 536.3Z" fill="none" stroke="#1a1a1a" stroke-width="2.9" stroke-opacity="0.25" />
<path d="M199.5 528.6 L215.8 527.3 L216.3 535 L200 536.3Z" fill="none" stroke="#1a1a1a" stroke-width="1" />
<text x="208" y="534.4" transform="rotate(-5 208 534.4)" text-anchor="middle" font-family="'Liberation Sans',sans-serif" font-weight="bold" font-size="6" fill="#666" textLength="12" lengthAdjust="spacingAndGlyphs">DIM</text>
<ellipse cx="155.9" cy="550.5" rx="20.7" ry="18.5" transform="rotate(-5 155.9 550.5)" fill="#fff" stroke="none"/>
<ellipse cx="155.9" cy="550.5" rx="20.7" ry="18.5" transform="rotate(-5 155.9 550.5)" fill="none" stroke="#1c1c1c" stroke-width="3.8" stroke-opacity="0.25"/>
<ellipse cx="155.9" cy="550.5" rx="20.7" ry="18.5" transform="rotate(-5 155.9 550.5)" fill="none" stroke="#1c1c1c" stroke-width="1.9"/>
<circle cx="155.9" cy="550.5" r="6.6" fill="#fff" stroke="none"/>
<circle cx="155.9" cy="550.5" r="6.6" fill="none" stroke="#111" stroke-width="3.9" stroke-opacity="0.25"/>
<circle cx="155.9" cy="550.5" r="6.6" fill="none" stroke="#111" stroke-width="2"/>
<path d="M165.5 550.5 L170.9 550.5 M164.5 554.5 L169.4 556.6 M161.9 557.7 L165.3 561.4 M158 559.5 L159.2 564.1 M153.8 559.5 L152.6 564.1 M149.9 557.7 L146.5 561.4 M147.3 554.5 L142.4 556.6 M146.3 550.5 L140.9 550.5 M147.3 546.5 L142.4 544.4 M149.9 543.3 L146.5 539.6 M153.8 541.5 L152.6 536.9 M158 541.5 L159.2 536.9 M161.9 543.3 L165.3 539.6 M164.5 546.5 L169.4 544.4 " fill="none" stroke="#111" stroke-width="3.9" stroke-opacity="0.25" />
<path d="M165.5 550.5 L170.9 550.5 M164.5 554.5 L169.4 556.6 M161.9 557.7 L165.3 561.4 M158 559.5 L159.2 564.1 M153.8 559.5 L152.6 564.1 M149.9 557.7 L146.5 561.4 M147.3 554.5 L142.4 556.6 M146.3 550.5 L140.9 550.5 M147.3 546.5 L142.4 544.4 M149.9 543.3 L146.5 539.6 M153.8 541.5 L152.6 536.9 M158 541.5 L159.2 536.9 M161.9 543.3 L165.3 539.6 M164.5 546.5 L169.4 544.4 " fill="none" stroke="#111" stroke-width="2" />
<ellipse cx="262.2" cy="542" rx="20.7" ry="18.5" transform="rotate(-5 262.2 542)" fill="#fff" stroke="none"/>
<ellipse cx="262.2" cy="542" rx="20.7" ry="18.5" transform="rotate(-5 262.2 542)" fill="none" stroke="#1c1c1c" stroke-width="3.8" stroke-opacity="0.25"/>
<ellipse cx="262.2" cy="542" rx="20.7" ry="18.5" transform="rotate(-5 262.2 542)" fill="none" stroke="#1c1c1c" stroke-width="1.9"/>
<circle cx="262.2" cy="542" r="6.6" fill="#fff" stroke="none"/>
<circle cx="262.2" cy="542" r="6.6" fill="none" stroke="#111" stroke-width="3.9" stroke-opacity="0.25"/>
<circle cx="262.2" cy="542" r="6.6" fill="none" stroke="#111" stroke-width="2"/>
<path d="M271.8 542 L277.2 542 M270.8 546 L275.7 548.1 M268.2 549.2 L271.6 552.9 M264.3 551 L265.5 555.6 M260.1 551 L258.9 555.6 M256.2 549.2 L252.8 552.9 M253.6 546 L248.7 548.1 M252.6 542 L247.2 542 M253.6 538 L248.7 535.9 M256.2 534.8 L252.8 531.1 M260.1 533 L258.9 528.4 M264.3 533 L265.5 528.4 M268.2 534.8 L271.6 531.1 M270.8 538 L275.7 535.9 " fill="none" stroke="#111" stroke-width="3.9" stroke-opacity="0.25" />
<path d="M271.8 542 L277.2 542 M270.8 546 L275.7 548.1 M268.2 549.2 L271.6 552.9 M264.3 551 L265.5 555.6 M260.1 551 L258.9 555.6 M256.2 549.2 L252.8 552.9 M253.6 546 L248.7 548.1 M252.6 542 L247.2 542 M253.6 538 L248.7 535.9 M256.2 534.8 L252.8 531.1 M260.1 533 L258.9 528.4 M264.3 533 L265.5 528.4 M268.2 534.8 L271.6 531.1 M270.8 538 L275.7 535.9 " fill="none" stroke="#111" stroke-width="2" />
<path d="M154.5 579.3 L160.5 578.8" fill="none" stroke="#333" stroke-width="3.7" stroke-opacity="0.25" />
<path d="M154.5 579.3 L160.5 578.8" fill="none" stroke="#333" stroke-width="1.8" />
<path d="M259.3 570.6 L267.3 570 M263 566.3 L263.6 574.3" fill="none" stroke="#333" stroke-width="3.5" stroke-opacity="0.25" />
<path d="M259.3 570.6 L267.3 570 M263 566.3 L263.6 574.3" fill="none" stroke="#333" stroke-width="1.6" />
<path d="M156 637.2 L248 630.8" fill="none" stroke="#000" stroke-width="4.9" stroke-opacity="0.25" />
<path d="M156 637.2 L248 630.8" fill="none" stroke="#000" stroke-width="3" />
<path d="M156 638 L156.3 646.5" fill="none" stroke="#222" stroke-width="3.9" stroke-opacity="0.25" />
<path d="M156 638 L156.3 646.5" fill="none" stroke="#222" stroke-width="2" />
<path d="M260.6 632.5 L261 639" fill="none" stroke="#222" stroke-width="4.3" stroke-opacity="0.25" />
<path d="M260.6 632.5 L261 639" fill="none" stroke="#222" stroke-width="2.4" />
<path d="M277.4 631 L277.8 637" fill="none" stroke="#222" stroke-width="3.9" stroke-opacity="0.25" />
<path d="M277.4 631 L277.8 637" fill="none" stroke="#222" stroke-width="2" />
<circle cx="217.3" cy="634" r="34" fill="none" stroke="#333" stroke-width="3.2" stroke-opacity="0.25" stroke-dasharray="2.6 1.9"/>
<circle cx="217.3" cy="634" r="34" fill="none" stroke="#333" stroke-width="1.3" stroke-dasharray="2.6 1.9"/>
</g>
<g id="info">
<line class="b" x1="163.3" y1="752.5" x2="389.1" y2="752.5" stroke="#3a3a3a" stroke-width="4.6" stroke-opacity="0.25" stroke-dasharray="9.2 10.72" stroke-dashoffset="1.3" fill="none"/>
<line class="b" x1="163.3" y1="752.5" x2="389.1" y2="752.5" stroke="#3a3a3a" stroke-width="2.7" stroke-dasharray="9.2 10.72" stroke-dashoffset="1.3" fill="none"/>
<line class="b" x1="163.3" y1="990.5" x2="389.1" y2="990.5" stroke="#3a3a3a" stroke-width="4.6" stroke-opacity="0.25" stroke-dasharray="9.2 10.72" stroke-dashoffset="1.3" fill="none"/>
<line class="b" x1="163.3" y1="990.5" x2="389.1" y2="990.5" stroke="#3a3a3a" stroke-width="2.7" stroke-dasharray="9.2 10.72" stroke-dashoffset="1.3" fill="none"/>
<line class="b" x1="163.3" y1="752.5" x2="163.3" y2="990.5" stroke="#3a3a3a" stroke-width="4.6" stroke-opacity="0.25" stroke-dasharray="9 10.6" stroke-dashoffset="3.2" fill="none"/>
<line class="b" x1="163.3" y1="752.5" x2="163.3" y2="990.5" stroke="#3a3a3a" stroke-width="2.7" stroke-dasharray="9 10.6" stroke-dashoffset="3.2" fill="none"/>
<line class="b" x1="389.1" y1="752.5" x2="389.1" y2="990.5" stroke="#3a3a3a" stroke-width="4.6" stroke-opacity="0.25" stroke-dasharray="9 10.6" stroke-dashoffset="3.2" fill="none"/>
<line class="b" x1="389.1" y1="752.5" x2="389.1" y2="990.5" stroke="#3a3a3a" stroke-width="2.7" stroke-dasharray="9 10.6" stroke-dashoffset="3.2" fill="none"/>
<rect x="162" y="751.1" width="2.7" height="2.7" fill="#3a3a3a"/>
<rect x="387.8" y="751.1" width="2.7" height="2.7" fill="#3a3a3a"/>
<rect x="162" y="989.1" width="2.7" height="2.7" fill="#3a3a3a"/>
<rect x="387.8" y="989.1" width="2.7" height="2.7" fill="#3a3a3a"/>
<circle cx="280.5" cy="840.2" r="64" fill="none" stroke="#222" stroke-width="3.9" stroke-opacity="0.25"/>
<circle cx="280.5" cy="840.2" r="64" fill="none" stroke="#222" stroke-width="2"/>
<circle cx="280.5" cy="840.2" r="57" fill="none" stroke="#222" stroke-width="3.9" stroke-opacity="0.25"/>
<circle cx="280.5" cy="840.2" r="57" fill="none" stroke="#222" stroke-width="2"/>
<text x="227" y="846.5" font-family="'Liberation Sans',sans-serif" font-size="20.5" fill="#222" textLength="109" lengthAdjust="spacingAndGlyphs">CR2025 3V</text>
<text x="219.3" y="978" font-family="'Liberation Sans',sans-serif" font-weight="bold" font-size="31" fill="#222" textLength="15.5" lengthAdjust="spacingAndGlyphs">€</text>
<text x="241.2" y="978" font-family="'Liberation Sans',sans-serif" font-weight="bold" font-size="31" fill="#222" textLength="15.5" lengthAdjust="spacingAndGlyphs">$</text>
<text x="263.6" y="978" font-family="'Liberation Sans',sans-serif" font-weight="bold" font-size="31" fill="#222" textLength="15.5" lengthAdjust="spacingAndGlyphs">£</text>
<path d="M292 950 L326.3 950 L319.6 967 L295.6 967Z" fill="#222" stroke="none" />
<path d="M292 950 L326.3 950 L319.6 967 L295.6 967Z" fill="none" stroke="#222" stroke-width="3.5" stroke-opacity="0.25" />
<path d="M292 950 L326.3 950 L319.6 967 L295.6 967Z" fill="none" stroke="#222" stroke-width="1.6" />
<path d="M297.5 952 L298.5 966 M302.5 952 L302.9 966 M307.5 952 L307.3 966 M312.5 952 L311.7 966 M317.5 952 L316.1 966 " fill="none" stroke="#aaa" stroke-width="2.8" stroke-opacity="0.25" class="b"/>
<path d="M297.5 952 L298.5 966 M302.5 952 L302.9 966 M307.5 952 L307.3 966 M312.5 952 L311.7 966 M317.5 952 L316.1 966 " fill="none" stroke="#aaa" stroke-width="0.9" class="b"/>
<path d="M294 955.5 H324 M295 960.5 H322" fill="none" stroke="#aaa" stroke-width="2.8" stroke-opacity="0.25" class="b"/>
<path d="M294 955.5 H324 M295 960.5 H322" fill="none" stroke="#aaa" stroke-width="0.9" class="b"/>
<path d="M325.5 951 L331.3 940.3 L338.5 939.2" fill="none" stroke="#222" stroke-width="4.1" stroke-opacity="0.25" />
<path d="M325.5 951 L331.3 940.3 L338.5 939.2" fill="none" stroke="#222" stroke-width="2.2" />
<path d="M319.6 967 L327 972.5 L327 977" fill="none" stroke="#222" stroke-width="3.9" stroke-opacity="0.25" />
<path d="M319.6 967 L327 972.5 L327 977" fill="none" stroke="#222" stroke-width="2" />
<path d="M295 975.3 L327 975.3" fill="none" stroke="#222" stroke-width="5.5" stroke-opacity="0.25" class="b"/>
<path d="M295 975.3 L327 975.3" fill="none" stroke="#222" stroke-width="3.6" class="b"/>
<circle cx="299" cy="979.5" r="3.3" fill="#222"/>
<circle cx="323.5" cy="979.5" r="3.3" fill="#222"/>
</g>
</svg>
</body></html>
